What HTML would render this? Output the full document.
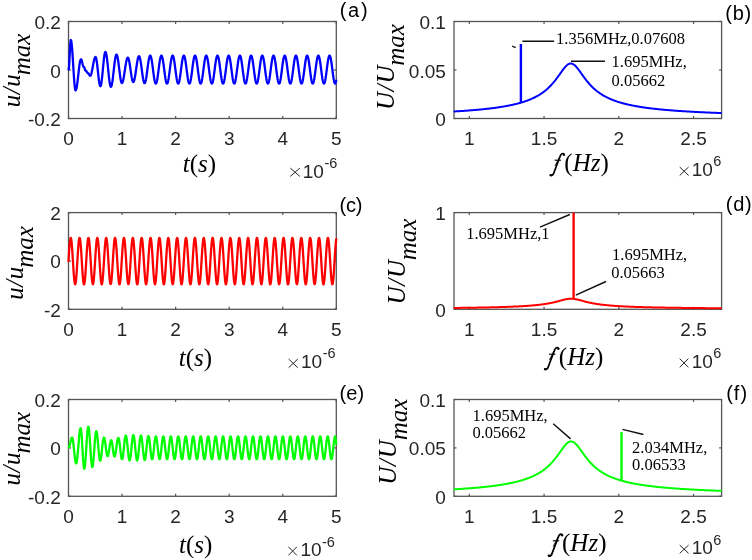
<!DOCTYPE html>
<html><head><meta charset="utf-8"><style>
html,body{margin:0;padding:0;background:#fff;width:752px;height:560px;overflow:hidden}
svg{display:block;will-change:transform}
</style></head><body>
<svg width="752" height="560" viewBox="0 0 752 560">
<rect width="752" height="560" fill="#fff"/>
<rect x="68.5" y="21.5" width="267.8" height="97" fill="none" stroke="#555" stroke-width="1.3"/>
<line x1="68.5" y1="118.5" x2="68.5" y2="116" stroke="#555" stroke-width="1.2"/>
<line x1="68.5" y1="21.5" x2="68.5" y2="24" stroke="#555" stroke-width="1.2"/>
<line x1="122.06" y1="118.5" x2="122.06" y2="116" stroke="#555" stroke-width="1.2"/>
<line x1="122.06" y1="21.5" x2="122.06" y2="24" stroke="#555" stroke-width="1.2"/>
<line x1="175.62" y1="118.5" x2="175.62" y2="116" stroke="#555" stroke-width="1.2"/>
<line x1="175.62" y1="21.5" x2="175.62" y2="24" stroke="#555" stroke-width="1.2"/>
<line x1="229.18" y1="118.5" x2="229.18" y2="116" stroke="#555" stroke-width="1.2"/>
<line x1="229.18" y1="21.5" x2="229.18" y2="24" stroke="#555" stroke-width="1.2"/>
<line x1="282.74" y1="118.5" x2="282.74" y2="116" stroke="#555" stroke-width="1.2"/>
<line x1="282.74" y1="21.5" x2="282.74" y2="24" stroke="#555" stroke-width="1.2"/>
<line x1="336.3" y1="118.5" x2="336.3" y2="116" stroke="#555" stroke-width="1.2"/>
<line x1="336.3" y1="21.5" x2="336.3" y2="24" stroke="#555" stroke-width="1.2"/>
<line x1="68.5" y1="21.5" x2="71" y2="21.5" stroke="#555" stroke-width="1.2"/>
<line x1="336.3" y1="21.5" x2="333.8" y2="21.5" stroke="#555" stroke-width="1.2"/>
<line x1="68.5" y1="70" x2="71" y2="70" stroke="#555" stroke-width="1.2"/>
<line x1="336.3" y1="70" x2="333.8" y2="70" stroke="#555" stroke-width="1.2"/>
<line x1="68.5" y1="118.5" x2="71" y2="118.5" stroke="#555" stroke-width="1.2"/>
<line x1="336.3" y1="118.5" x2="333.8" y2="118.5" stroke="#555" stroke-width="1.2"/>
<path d="M68.6,69.5 L68.88,68.38 L69.15,65.18 L69.42,60.39 L69.7,54.75 L69.97,49.11 L70.25,44.32 L70.52,41.12 L70.8,40 L71.05,40.34 L71.31,41.36 L71.56,43.03 L71.81,45.3 L72.06,48.12 L72.32,51.39 L72.57,55.05 L72.82,58.98 L73.07,63.07 L73.33,67.23 L73.58,71.32 L73.83,75.25 L74.08,78.91 L74.34,82.18 L74.59,85 L74.84,87.27 L75.09,88.94 L75.35,89.96 L75.6,90.3 L75.86,90.13 L76.11,89.61 L76.37,88.77 L76.63,87.61 L76.89,86.16 L77.14,84.46 L77.4,82.55 L77.66,80.46 L77.91,78.25 L78.17,75.96 L78.43,73.64 L78.69,71.35 L78.94,69.14 L79.2,67.05 L79.46,65.14 L79.71,63.44 L79.97,61.99 L80.23,60.83 L80.49,59.99 L80.74,59.47 L81,59.3 L81.27,59.48 L81.54,60.02 L81.81,60.85 L82.08,61.89 L82.35,63.05 L82.62,64.21 L82.89,65.25 L83.16,66.08 L83.43,66.62 L83.7,66.8 L83.96,66.95 L84.22,67.39 L84.49,68.03 L84.75,68.8 L85.01,69.57 L85.28,70.21 L85.54,70.65 L85.8,70.8 L86.08,70.89 L86.35,71.15 L86.62,71.54 L86.9,72 L87.17,72.46 L87.45,72.85 L87.72,73.11 L88,73.2 L88.28,73.3 L88.55,73.58 L88.83,74 L89.1,74.5 L89.38,75 L89.65,75.42 L89.92,75.7 L90.2,75.8 L90.45,75.7 L90.7,75.38 L90.96,74.87 L91.21,74.17 L91.46,73.29 L91.71,72.26 L91.97,71.1 L92.22,69.83 L92.47,68.49 L92.72,67.1 L92.98,65.7 L93.23,64.31 L93.48,62.97 L93.73,61.7 L93.99,60.54 L94.24,59.51 L94.49,58.63 L94.74,57.93 L95,57.42 L95.25,57.1 L95.5,57 L95.76,57.2 L96.02,57.79 L96.27,58.76 L96.53,60.08 L96.79,61.71 L97.05,63.61 L97.31,65.74 L97.56,68.02 L97.82,70.39 L98.08,72.81 L98.34,75.18 L98.59,77.46 L98.85,79.59 L99.11,81.49 L99.37,83.12 L99.63,84.44 L99.88,85.41 L100.14,86 L100.4,86.2 L100.65,85.99 L100.9,85.36 L101.15,84.34 L101.4,82.93 L101.65,81.19 L101.9,79.15 L102.15,76.86 L102.4,74.38 L102.65,71.78 L102.9,69.1 L103.15,66.42 L103.4,63.82 L103.65,61.34 L103.9,59.05 L104.15,57.01 L104.4,55.27 L104.65,53.86 L104.9,52.84 L105.15,52.21 L105.4,52 L105.65,52.18 L105.9,52.7 L106.15,53.57 L106.4,54.76 L106.65,56.25 L106.9,58.01 L107.15,59.99 L107.4,62.17 L107.65,64.5 L107.9,66.92 L108.15,69.4 L108.4,71.88 L108.65,74.3 L108.9,76.63 L109.15,78.81 L109.4,80.79 L109.65,82.55 L109.9,84.04 L110.15,85.23 L110.4,86.1 L110.65,86.62 L110.9,86.8 L111.15,86.64 L111.41,86.15 L111.66,85.35 L111.92,84.24 L112.17,82.87 L112.43,81.24 L112.68,79.4 L112.94,77.39 L113.19,75.24 L113.45,72.99 L113.7,70.7 L113.95,68.41 L114.21,66.16 L114.46,64.01 L114.72,62 L114.97,60.16 L115.23,58.53 L115.48,57.16 L115.74,56.05 L115.99,55.25 L116.25,54.76 L116.5,54.6 L116.76,54.76 L117.01,55.23 L117.27,56.01 L117.53,57.07 L117.79,58.39 L118.04,59.95 L118.3,61.7 L118.56,63.61 L118.81,65.64 L119.07,67.74 L119.33,69.86 L119.59,71.96 L119.84,73.99 L120.1,75.9 L120.36,77.65 L120.61,79.21 L120.87,80.53 L121.13,81.59 L121.39,82.37 L121.64,82.84 L121.9,83 L122.16,82.88 L122.41,82.53 L122.67,81.95 L122.93,81.15 L123.18,80.15 L123.44,78.97 L123.7,77.62 L123.95,76.14 L124.21,74.55 L124.47,72.88 L124.72,71.17 L124.98,69.43 L125.23,67.72 L125.49,66.05 L125.75,64.46 L126,62.98 L126.26,61.63 L126.52,60.45 L126.77,59.45 L127.03,58.65 L127.29,58.07 L127.54,57.72 L127.8,57.6 L128.05,57.72 L128.3,58.09 L128.55,58.7 L128.8,59.54 L129.05,60.58 L129.3,61.81 L129.55,63.2 L129.8,64.73 L130.05,66.36 L130.3,68.06 L130.55,69.8 L130.8,71.54 L131.05,73.24 L131.3,74.87 L131.55,76.4 L131.8,77.79 L132.05,79.02 L132.3,80.06 L132.55,80.9 L132.8,81.51 L133.05,81.88 L133.3,82 L133.56,81.87 L133.82,81.48 L134.08,80.83 L134.34,79.95 L134.6,78.85 L134.85,77.55 L135.11,76.07 L135.37,74.46 L135.63,72.73 L135.89,70.94 L136.15,69.1 L136.41,67.26 L136.67,65.47 L136.93,63.74 L137.19,62.13 L137.45,60.65 L137.7,59.35 L137.96,58.25 L138.22,57.37 L138.48,56.72 L138.74,56.33 L139,56.2 L139.25,56.34 L139.51,56.75 L139.76,57.42 L140.02,58.34 L140.27,59.5 L140.53,60.86 L140.78,62.4 L141.04,64.09 L141.29,65.9 L141.55,67.78 L141.8,69.7 L142.05,71.62 L142.31,73.5 L142.56,75.31 L142.82,77 L143.07,78.54 L143.33,79.9 L143.58,81.06 L143.84,81.98 L144.09,82.65 L144.35,83.06 L144.6,83.2 L144.85,83.06 L145.11,82.64 L145.36,81.95 L145.62,81.01 L145.87,79.83 L146.13,78.44 L146.38,76.86 L146.64,75.13 L146.89,73.29 L147.15,71.36 L147.4,69.4 L147.66,67.44 L147.91,65.51 L148.17,63.67 L148.42,61.94 L148.68,60.36 L148.93,58.97 L149.19,57.79 L149.44,56.85 L149.7,56.16 L149.95,55.74 L150.2,55.6 L150.46,55.74 L150.71,56.17 L150.97,56.87 L151.22,57.82 L151.48,59.02 L151.73,60.43 L151.99,62.03 L152.24,63.78 L152.5,65.66 L152.75,67.61 L153.01,69.6 L153.26,71.59 L153.52,73.54 L153.77,75.42 L154.03,77.17 L154.28,78.77 L154.54,80.18 L154.79,81.38 L155.05,82.33 L155.3,83.03 L155.56,83.46 L155.81,83.6 L156.06,83.46 L156.32,83.03 L156.57,82.33 L156.83,81.38 L157.08,80.18 L157.34,78.77 L157.59,77.17 L157.85,75.42 L158.1,73.54 L158.36,71.59 L158.61,69.6 L158.87,67.61 L159.12,65.66 L159.38,63.78 L159.63,62.03 L159.89,60.43 L160.14,59.02 L160.4,57.82 L160.65,56.87 L160.91,56.17 L161.16,55.74 L161.41,55.6 L161.67,55.74 L161.92,56.17 L162.18,56.87 L162.43,57.82 L162.69,59.02 L162.94,60.43 L163.2,62.03 L163.45,63.78 L163.71,65.66 L163.96,67.61 L164.22,69.6 L164.47,71.59 L164.73,73.54 L164.98,75.42 L165.24,77.17 L165.49,78.77 L165.75,80.18 L166,81.38 L166.26,82.33 L166.51,83.03 L166.77,83.46 L167.02,83.6 L167.27,83.46 L167.53,83.03 L167.78,82.33 L168.04,81.38 L168.29,80.18 L168.55,78.77 L168.8,77.17 L169.06,75.42 L169.31,73.54 L169.57,71.59 L169.82,69.6 L170.08,67.61 L170.33,65.66 L170.59,63.78 L170.84,62.03 L171.1,60.43 L171.35,59.02 L171.61,57.82 L171.86,56.87 L172.12,56.17 L172.37,55.74 L172.62,55.6 L172.88,55.74 L173.13,56.17 L173.39,56.87 L173.64,57.82 L173.9,59.02 L174.15,60.43 L174.41,62.03 L174.66,63.78 L174.92,65.66 L175.17,67.61 L175.43,69.6 L175.68,71.59 L175.94,73.54 L176.19,75.42 L176.45,77.17 L176.7,78.77 L176.96,80.18 L177.21,81.38 L177.47,82.33 L177.72,83.03 L177.98,83.46 L178.23,83.6 L178.48,83.46 L178.74,83.03 L178.99,82.33 L179.25,81.38 L179.5,80.18 L179.76,78.77 L180.01,77.17 L180.27,75.42 L180.52,73.54 L180.78,71.59 L181.03,69.6 L181.29,67.61 L181.54,65.66 L181.8,63.78 L182.05,62.03 L182.31,60.43 L182.56,59.02 L182.82,57.82 L183.07,56.87 L183.33,56.17 L183.58,55.74 L183.83,55.6 L184.09,55.74 L184.34,56.17 L184.6,56.87 L184.85,57.82 L185.11,59.02 L185.36,60.43 L185.62,62.03 L185.87,63.78 L186.13,65.66 L186.38,67.61 L186.64,69.6 L186.89,71.59 L187.15,73.54 L187.4,75.42 L187.66,77.17 L187.91,78.77 L188.17,80.18 L188.42,81.38 L188.68,82.33 L188.93,83.03 L189.19,83.46 L189.44,83.6 L189.69,83.46 L189.95,83.03 L190.2,82.33 L190.46,81.38 L190.71,80.18 L190.97,78.77 L191.22,77.17 L191.48,75.42 L191.73,73.54 L191.99,71.59 L192.24,69.6 L192.5,67.61 L192.75,65.66 L193.01,63.78 L193.26,62.03 L193.52,60.43 L193.77,59.02 L194.03,57.82 L194.28,56.87 L194.54,56.17 L194.79,55.74 L195.04,55.6 L195.3,55.74 L195.55,56.17 L195.81,56.87 L196.06,57.82 L196.32,59.02 L196.57,60.43 L196.83,62.03 L197.08,63.78 L197.34,65.66 L197.59,67.61 L197.85,69.6 L198.1,71.59 L198.36,73.54 L198.61,75.42 L198.87,77.17 L199.12,78.77 L199.38,80.18 L199.63,81.38 L199.89,82.33 L200.14,83.03 L200.4,83.46 L200.65,83.6 L200.9,83.46 L201.16,83.03 L201.41,82.33 L201.67,81.38 L201.92,80.18 L202.18,78.77 L202.43,77.17 L202.69,75.42 L202.94,73.54 L203.2,71.59 L203.45,69.6 L203.71,67.61 L203.96,65.66 L204.22,63.78 L204.47,62.03 L204.73,60.43 L204.98,59.02 L205.24,57.82 L205.49,56.87 L205.75,56.17 L206,55.74 L206.25,55.6 L206.51,55.74 L206.76,56.17 L207.02,56.87 L207.27,57.82 L207.53,59.02 L207.78,60.43 L208.04,62.03 L208.29,63.78 L208.55,65.66 L208.8,67.61 L209.06,69.6 L209.31,71.59 L209.57,73.54 L209.82,75.42 L210.08,77.17 L210.33,78.77 L210.59,80.18 L210.84,81.38 L211.1,82.33 L211.35,83.03 L211.61,83.46 L211.86,83.6 L212.11,83.46 L212.37,83.03 L212.62,82.33 L212.88,81.38 L213.13,80.18 L213.39,78.77 L213.64,77.17 L213.9,75.42 L214.15,73.54 L214.41,71.59 L214.66,69.6 L214.92,67.61 L215.17,65.66 L215.43,63.78 L215.68,62.03 L215.94,60.43 L216.19,59.02 L216.45,57.82 L216.7,56.87 L216.96,56.17 L217.21,55.74 L217.46,55.6 L217.72,55.74 L217.97,56.17 L218.23,56.87 L218.48,57.82 L218.74,59.02 L218.99,60.43 L219.25,62.03 L219.5,63.78 L219.76,65.66 L220.01,67.61 L220.27,69.6 L220.52,71.59 L220.78,73.54 L221.03,75.42 L221.29,77.17 L221.54,78.77 L221.8,80.18 L222.05,81.38 L222.31,82.33 L222.56,83.03 L222.82,83.46 L223.07,83.6 L223.32,83.46 L223.58,83.03 L223.83,82.33 L224.09,81.38 L224.34,80.18 L224.6,78.77 L224.85,77.17 L225.11,75.42 L225.36,73.54 L225.62,71.59 L225.87,69.6 L226.13,67.61 L226.38,65.66 L226.64,63.78 L226.89,62.03 L227.15,60.43 L227.4,59.02 L227.66,57.82 L227.91,56.87 L228.17,56.17 L228.42,55.74 L228.67,55.6 L228.93,55.74 L229.18,56.17 L229.44,56.87 L229.69,57.82 L229.95,59.02 L230.2,60.43 L230.46,62.03 L230.71,63.78 L230.97,65.66 L231.22,67.61 L231.48,69.6 L231.73,71.59 L231.99,73.54 L232.24,75.42 L232.5,77.17 L232.75,78.77 L233.01,80.18 L233.26,81.38 L233.52,82.33 L233.77,83.03 L234.03,83.46 L234.28,83.6 L234.53,83.46 L234.79,83.03 L235.04,82.33 L235.3,81.38 L235.55,80.18 L235.81,78.77 L236.06,77.17 L236.32,75.42 L236.57,73.54 L236.83,71.59 L237.08,69.6 L237.34,67.61 L237.59,65.66 L237.85,63.78 L238.1,62.03 L238.36,60.43 L238.61,59.02 L238.87,57.82 L239.12,56.87 L239.38,56.17 L239.63,55.74 L239.88,55.6 L240.14,55.74 L240.39,56.17 L240.65,56.87 L240.9,57.82 L241.16,59.02 L241.41,60.43 L241.67,62.03 L241.92,63.78 L242.18,65.66 L242.43,67.61 L242.69,69.6 L242.94,71.59 L243.2,73.54 L243.45,75.42 L243.71,77.17 L243.96,78.77 L244.22,80.18 L244.47,81.38 L244.73,82.33 L244.98,83.03 L245.24,83.46 L245.49,83.6 L245.74,83.46 L246,83.03 L246.25,82.33 L246.51,81.38 L246.76,80.18 L247.02,78.77 L247.27,77.17 L247.53,75.42 L247.78,73.54 L248.04,71.59 L248.29,69.6 L248.55,67.61 L248.8,65.66 L249.06,63.78 L249.31,62.03 L249.57,60.43 L249.82,59.02 L250.08,57.82 L250.33,56.87 L250.59,56.17 L250.84,55.74 L251.09,55.6 L251.35,55.74 L251.6,56.17 L251.86,56.87 L252.11,57.82 L252.37,59.02 L252.62,60.43 L252.88,62.03 L253.13,63.78 L253.39,65.66 L253.64,67.61 L253.9,69.6 L254.15,71.59 L254.41,73.54 L254.66,75.42 L254.92,77.17 L255.17,78.77 L255.43,80.18 L255.68,81.38 L255.94,82.33 L256.19,83.03 L256.45,83.46 L256.7,83.6 L256.95,83.46 L257.21,83.03 L257.46,82.33 L257.72,81.38 L257.97,80.18 L258.23,78.77 L258.48,77.17 L258.74,75.42 L258.99,73.54 L259.25,71.59 L259.5,69.6 L259.76,67.61 L260.01,65.66 L260.27,63.78 L260.52,62.03 L260.78,60.43 L261.03,59.02 L261.29,57.82 L261.54,56.87 L261.8,56.17 L262.05,55.74 L262.3,55.6 L262.56,55.74 L262.81,56.17 L263.07,56.87 L263.32,57.82 L263.58,59.02 L263.83,60.43 L264.09,62.03 L264.34,63.78 L264.6,65.66 L264.85,67.61 L265.11,69.6 L265.36,71.59 L265.62,73.54 L265.87,75.42 L266.13,77.17 L266.38,78.77 L266.64,80.18 L266.89,81.38 L267.15,82.33 L267.4,83.03 L267.66,83.46 L267.91,83.6 L268.16,83.46 L268.42,83.03 L268.67,82.33 L268.93,81.38 L269.18,80.18 L269.44,78.77 L269.69,77.17 L269.95,75.42 L270.2,73.54 L270.46,71.59 L270.71,69.6 L270.97,67.61 L271.22,65.66 L271.48,63.78 L271.73,62.03 L271.99,60.43 L272.24,59.02 L272.5,57.82 L272.75,56.87 L273.01,56.17 L273.26,55.74 L273.51,55.6 L273.77,55.74 L274.02,56.17 L274.28,56.87 L274.53,57.82 L274.79,59.02 L275.04,60.43 L275.3,62.03 L275.55,63.78 L275.81,65.66 L276.06,67.61 L276.32,69.6 L276.57,71.59 L276.83,73.54 L277.08,75.42 L277.34,77.17 L277.59,78.77 L277.85,80.18 L278.1,81.38 L278.36,82.33 L278.61,83.03 L278.87,83.46 L279.12,83.6 L279.37,83.46 L279.63,83.03 L279.88,82.33 L280.14,81.38 L280.39,80.18 L280.65,78.77 L280.9,77.17 L281.16,75.42 L281.41,73.54 L281.67,71.59 L281.92,69.6 L282.18,67.61 L282.43,65.66 L282.69,63.78 L282.94,62.03 L283.2,60.43 L283.45,59.02 L283.71,57.82 L283.96,56.87 L284.22,56.17 L284.47,55.74 L284.72,55.6 L284.98,55.74 L285.23,56.17 L285.49,56.87 L285.74,57.82 L286,59.02 L286.25,60.43 L286.51,62.03 L286.76,63.78 L287.02,65.66 L287.27,67.61 L287.53,69.6 L287.78,71.59 L288.04,73.54 L288.29,75.42 L288.55,77.17 L288.8,78.77 L289.06,80.18 L289.31,81.38 L289.57,82.33 L289.82,83.03 L290.08,83.46 L290.33,83.6 L290.58,83.46 L290.84,83.03 L291.09,82.33 L291.35,81.38 L291.6,80.18 L291.86,78.77 L292.11,77.17 L292.37,75.42 L292.62,73.54 L292.88,71.59 L293.13,69.6 L293.39,67.61 L293.64,65.66 L293.9,63.78 L294.15,62.03 L294.41,60.43 L294.66,59.02 L294.92,57.82 L295.17,56.87 L295.43,56.17 L295.68,55.74 L295.93,55.6 L296.19,55.74 L296.44,56.17 L296.7,56.87 L296.95,57.82 L297.21,59.02 L297.46,60.43 L297.72,62.03 L297.97,63.78 L298.23,65.66 L298.48,67.61 L298.74,69.6 L298.99,71.59 L299.25,73.54 L299.5,75.42 L299.76,77.17 L300.01,78.77 L300.27,80.18 L300.52,81.38 L300.78,82.33 L301.03,83.03 L301.29,83.46 L301.54,83.6 L301.79,83.46 L302.05,83.03 L302.3,82.33 L302.56,81.38 L302.81,80.18 L303.07,78.77 L303.32,77.17 L303.58,75.42 L303.83,73.54 L304.09,71.59 L304.34,69.6 L304.6,67.61 L304.85,65.66 L305.11,63.78 L305.36,62.03 L305.62,60.43 L305.87,59.02 L306.13,57.82 L306.38,56.87 L306.64,56.17 L306.89,55.74 L307.14,55.6 L307.4,55.74 L307.65,56.17 L307.91,56.87 L308.16,57.82 L308.42,59.02 L308.67,60.43 L308.93,62.03 L309.18,63.78 L309.44,65.66 L309.69,67.61 L309.95,69.6 L310.2,71.59 L310.46,73.54 L310.71,75.42 L310.97,77.17 L311.22,78.77 L311.48,80.18 L311.73,81.38 L311.99,82.33 L312.24,83.03 L312.5,83.46 L312.75,83.6 L313,83.46 L313.26,83.03 L313.51,82.33 L313.77,81.38 L314.02,80.18 L314.28,78.77 L314.53,77.17 L314.79,75.42 L315.04,73.54 L315.3,71.59 L315.55,69.6 L315.81,67.61 L316.06,65.66 L316.32,63.78 L316.57,62.03 L316.83,60.43 L317.08,59.02 L317.34,57.82 L317.59,56.87 L317.85,56.17 L318.1,55.74 L318.36,55.6 L318.61,55.74 L318.86,56.17 L319.12,56.87 L319.37,57.82 L319.63,59.02 L319.88,60.43 L320.14,62.03 L320.39,63.78 L320.65,65.66 L320.9,67.61 L321.16,69.6 L321.41,71.59 L321.67,73.54 L321.92,75.42 L322.18,77.17 L322.43,78.77 L322.69,80.18 L322.94,81.38 L323.2,82.33 L323.45,83.03 L323.71,83.46 L323.96,83.6 L324.21,83.46 L324.47,83.03 L324.72,82.33 L324.98,81.38 L325.23,80.18 L325.49,78.77 L325.74,77.17 L326,75.42 L326.25,73.54 L326.51,71.59 L326.76,69.6 L327.02,67.61 L327.27,65.66 L327.53,63.78 L327.78,62.03 L328.04,60.43 L328.29,59.02 L328.55,57.82 L328.8,56.87 L329.06,56.17 L329.31,55.74 L329.57,55.6 L329.82,55.74 L330.07,56.17 L330.33,56.87 L330.58,57.82 L330.84,59.02 L331.09,60.43 L331.35,62.03 L331.6,63.78 L331.86,65.66 L332.11,67.61 L332.37,69.6 L332.62,71.59 L332.88,73.54 L333.13,75.42 L333.39,77.17 L333.64,78.77 L333.9,80.18 L334.15,81.38 L334.41,82.33 L334.66,83.03 L334.92,83.46 L335.17,83.6 L336.3,80.58" fill="none" stroke="#0000ff" stroke-width="2.3" stroke-linejoin="round" stroke-linecap="round"/>
<rect x="68.5" y="212.6" width="267.8" height="96.7" fill="none" stroke="#555" stroke-width="1.3"/>
<line x1="68.5" y1="309.3" x2="68.5" y2="306.8" stroke="#555" stroke-width="1.2"/>
<line x1="68.5" y1="212.6" x2="68.5" y2="215.1" stroke="#555" stroke-width="1.2"/>
<line x1="122.06" y1="309.3" x2="122.06" y2="306.8" stroke="#555" stroke-width="1.2"/>
<line x1="122.06" y1="212.6" x2="122.06" y2="215.1" stroke="#555" stroke-width="1.2"/>
<line x1="175.62" y1="309.3" x2="175.62" y2="306.8" stroke="#555" stroke-width="1.2"/>
<line x1="175.62" y1="212.6" x2="175.62" y2="215.1" stroke="#555" stroke-width="1.2"/>
<line x1="229.18" y1="309.3" x2="229.18" y2="306.8" stroke="#555" stroke-width="1.2"/>
<line x1="229.18" y1="212.6" x2="229.18" y2="215.1" stroke="#555" stroke-width="1.2"/>
<line x1="282.74" y1="309.3" x2="282.74" y2="306.8" stroke="#555" stroke-width="1.2"/>
<line x1="282.74" y1="212.6" x2="282.74" y2="215.1" stroke="#555" stroke-width="1.2"/>
<line x1="336.3" y1="309.3" x2="336.3" y2="306.8" stroke="#555" stroke-width="1.2"/>
<line x1="336.3" y1="212.6" x2="336.3" y2="215.1" stroke="#555" stroke-width="1.2"/>
<line x1="68.5" y1="212.6" x2="71" y2="212.6" stroke="#555" stroke-width="1.2"/>
<line x1="336.3" y1="212.6" x2="333.8" y2="212.6" stroke="#555" stroke-width="1.2"/>
<line x1="68.5" y1="260.95" x2="71" y2="260.95" stroke="#555" stroke-width="1.2"/>
<line x1="336.3" y1="260.95" x2="333.8" y2="260.95" stroke="#555" stroke-width="1.2"/>
<line x1="68.5" y1="309.3" x2="71" y2="309.3" stroke="#555" stroke-width="1.2"/>
<line x1="336.3" y1="309.3" x2="333.8" y2="309.3" stroke="#555" stroke-width="1.2"/>
<path d="M68.5,261.1 L68.75,257.01 L69,253.05 L69.25,249.34 L69.5,246 L69.75,243.14 L70,240.83 L70.25,239.16 L70.5,238.17 L70.75,237.91 L71,238.36 L71.25,239.53 L71.5,241.38 L71.75,243.84 L72,246.84 L72.25,250.29 L72.5,254.07 L72.75,258.08 L73,262.18 L73.25,266.24 L73.5,270.15 L73.75,273.77 L74,277 L74.25,279.72 L74.5,281.87 L74.75,283.37 L75,284.17 L75.25,284.24 L75.5,283.6 L75.75,282.25 L76,280.24 L76.25,277.63 L76.5,274.5 L76.75,270.95 L77,267.1 L77.25,263.05 L77.5,258.95 L77.75,254.91 L78,251.07 L78.25,247.54 L78.5,244.44 L78.75,241.85 L79,239.87 L79.25,238.56 L79.5,237.94 L79.75,238.06 L80,238.89 L80.25,240.42 L80.5,242.59 L80.75,245.35 L81,248.6 L81.25,252.23 L81.5,256.15 L81.75,260.22 L82,264.32 L82.25,268.32 L82.5,272.09 L82.75,275.52 L83,278.49 L83.25,280.93 L83.5,282.74 L83.75,283.87 L84,284.3 L84.25,283.99 L84.5,282.98 L84.75,281.27 L85,278.94 L85.25,276.04 L85.5,272.68 L85.75,268.96 L86,264.99 L86.25,260.9 L86.5,256.82 L86.75,252.87 L87,249.18 L87.25,245.86 L87.5,243.01 L87.75,240.74 L88,239.1 L88.25,238.14 L88.5,237.91 L88.75,238.4 L89,239.61 L89.25,241.48 L89.5,243.97 L89.75,246.99 L90,250.46 L90.25,254.26 L90.5,258.27 L90.75,262.37 L91,266.43 L91.25,270.33 L91.5,273.93 L91.75,277.14 L92,279.84 L92.25,281.96 L92.5,283.42 L92.75,284.19 L93,284.23 L93.25,283.55 L93.5,282.17 L93.75,280.12 L94,277.49 L94.25,274.34 L94.5,270.77 L94.75,266.91 L95,262.86 L95.25,258.75 L95.5,254.72 L95.75,250.89 L96,247.38 L96.25,244.3 L96.5,241.74 L96.75,239.79 L97,238.51 L97.25,237.93 L97.5,238.08 L97.75,238.95 L98,240.51 L98.25,242.71 L98.5,245.49 L98.75,248.76 L99,252.42 L99.25,256.34 L99.5,260.42 L99.75,264.51 L100,268.5 L100.25,272.26 L100.5,275.67 L100.75,278.62 L101,281.03 L101.25,282.81 L101.5,283.91 L101.75,284.3 L102,283.96 L102.25,282.91 L102.5,281.17 L102.75,278.81 L103,275.89 L103.25,272.51 L103.5,268.78 L103.75,264.8 L104,260.71 L104.25,256.62 L104.5,252.68 L104.75,249.01 L105,245.71 L105.25,242.89 L105.5,240.64 L105.75,239.03 L106,238.12 L106.25,237.92 L106.5,238.45 L106.75,239.68 L107,241.59 L107.25,244.1 L107.5,247.15 L107.75,250.64 L108,254.45 L108.25,258.47 L108.5,262.57 L108.75,266.63 L109,270.51 L109.25,274.1 L109.5,277.28 L109.75,279.96 L110,282.04 L110.25,283.47 L110.5,284.21 L110.75,284.21 L111,283.5 L111.25,282.08 L111.5,280.01 L111.75,277.35 L112,274.17 L112.25,270.59 L112.5,266.71 L112.75,262.66 L113,258.56 L113.25,254.53 L113.5,250.72 L113.75,247.22 L114,244.17 L114.25,241.64 L114.5,239.72 L114.75,238.47 L115,237.92 L115.25,238.1 L115.5,239.01 L115.75,240.6 L116,242.83 L116.25,245.64 L116.5,248.93 L116.75,252.6 L117,256.54 L117.25,260.62 L117.5,264.71 L117.75,268.69 L118,272.43 L118.25,275.82 L118.5,278.75 L118.75,281.13 L119,282.88 L119.25,283.95 L119.5,284.3 L119.75,283.93 L120,282.84 L120.25,281.07 L120.5,278.68 L120.75,275.74 L121,272.34 L121.25,268.59 L121.5,264.6 L121.75,260.51 L122,256.43 L122.25,252.5 L122.5,248.84 L122.75,245.56 L123,242.77 L123.25,240.55 L123.5,238.97 L123.75,238.09 L124,237.93 L124.25,238.49 L124.5,239.76 L124.75,241.69 L125,244.24 L125.25,247.31 L125.5,250.81 L125.75,254.64 L126,258.66 L126.25,262.77 L126.5,266.82 L126.75,270.69 L127,274.26 L127.25,277.42 L127.5,280.07 L127.75,282.13 L128,283.53 L128.25,284.22 L128.5,284.2 L128.75,283.45 L129,282 L129.25,279.89 L129.5,277.2 L129.75,274.01 L130,270.41 L130.25,266.52 L130.5,262.46 L130.75,258.36 L131,254.35 L131.25,250.54 L131.5,247.07 L131.75,244.03 L132,241.53 L132.25,239.64 L132.5,238.42 L132.75,237.91 L133,238.13 L133.25,239.07 L133.5,240.69 L133.75,242.96 L134,245.79 L134.25,249.1 L134.5,252.78 L134.75,256.73 L135,260.81 L135.25,264.9 L135.5,268.88 L135.75,272.61 L136,275.98 L136.25,278.88 L136.5,281.23 L136.75,282.95 L137,283.98 L137.25,284.3 L137.5,283.89 L137.75,282.77 L138,280.97 L138.25,278.55 L138.5,275.59 L138.75,272.17 L139,268.4 L139.25,264.41 L139.5,260.31 L139.75,256.24 L140,252.32 L140.25,248.67 L140.5,245.41 L140.75,242.65 L141,240.46 L141.25,238.92 L141.5,238.07 L141.75,237.94 L142,238.53 L142.25,239.84 L142.5,241.8 L142.75,244.37 L143,247.47 L143.25,250.99 L143.5,254.83 L143.75,258.86 L144,262.96 L144.25,267.01 L144.5,270.87 L144.75,274.42 L145,277.56 L145.25,280.18 L145.5,282.21 L145.75,283.58 L146,284.24 L146.25,284.18 L146.5,283.39 L146.75,281.91 L147,279.78 L147.25,277.06 L147.5,273.85 L147.75,270.23 L148,266.33 L148.25,262.27 L148.5,258.17 L148.75,254.16 L149,250.37 L149.25,246.91 L149.5,243.9 L149.75,241.42 L150,239.57 L150.25,238.38 L150.5,237.91 L150.75,238.16 L151,239.13 L151.25,240.79 L151.5,243.08 L151.75,245.94 L152,249.27 L152.25,252.97 L152.5,256.92 L152.75,261.01 L153,265.1 L153.25,269.06 L153.5,272.78 L153.75,276.13 L154,279.01 L154.25,281.32 L154.5,283.01 L154.75,284.01 L155,284.3 L155.25,283.85 L155.5,282.7 L155.75,280.87 L156,278.42 L156.25,275.43 L156.5,271.99 L156.75,268.22 L157,264.21 L157.25,260.11 L157.5,256.05 L157.75,252.14 L158,248.51 L158.25,245.27 L158.5,242.53 L158.75,240.37 L159,238.86 L159.25,238.04 L159.5,237.95 L159.75,238.58 L160,239.92 L160.25,241.91 L160.5,244.51 L160.75,247.63 L161,251.17 L161.25,255.02 L161.5,259.06 L161.75,263.16 L162,267.2 L162.25,271.05 L162.5,274.58 L162.75,277.7 L163,280.3 L163.25,282.29 L163.5,283.62 L163.75,284.25 L164,284.15 L164.25,283.34 L164.5,281.82 L164.75,279.66 L165,276.92 L165.25,273.68 L165.5,270.05 L165.75,266.14 L166,262.07 L166.25,257.97 L166.5,253.97 L166.75,250.19 L167,246.75 L167.25,243.77 L167.5,241.32 L167.75,239.49 L168,238.34 L168.25,237.9 L168.5,238.19 L168.75,239.19 L169,240.88 L169.25,243.2 L169.5,246.09 L169.75,249.44 L170,253.15 L170.25,257.12 L170.5,261.21 L170.75,265.29 L171,269.25 L171.25,272.95 L171.5,276.28 L171.75,279.13 L172,281.42 L172.25,283.07 L172.5,284.04 L172.75,284.29 L173,283.81 L173.25,282.63 L173.5,280.77 L173.75,278.29 L174,275.28 L174.25,271.82 L174.5,268.03 L174.75,264.02 L175,259.92 L175.25,255.85 L175.5,251.95 L175.75,248.34 L176,245.13 L176.25,242.41 L176.5,240.28 L176.75,238.8 L177,238.02 L177.25,237.96 L177.5,238.63 L177.75,240 L178,242.03 L178.25,244.65 L178.5,247.79 L178.75,251.35 L179,255.21 L179.25,259.25 L179.5,263.36 L179.75,267.39 L180,271.23 L180.25,274.74 L180.5,277.84 L180.75,280.41 L181,282.37 L181.25,283.67 L181.5,284.26 L181.75,284.13 L182,283.28 L182.25,281.73 L182.5,279.54 L182.75,276.77 L183,273.51 L183.25,269.87 L183.5,265.95 L183.75,261.87 L184,257.78 L184.25,253.78 L184.5,250.02 L184.75,246.6 L185,243.64 L185.25,241.22 L185.5,239.42 L185.75,238.31 L186,237.9 L186.25,238.22 L186.5,239.26 L186.75,240.98 L187,243.33 L187.25,246.24 L187.5,249.61 L187.75,253.34 L188,257.31 L188.25,261.4 L188.5,265.49 L188.75,269.43 L189,273.12 L189.25,276.42 L189.5,279.25 L189.75,281.51 L190,283.14 L190.25,284.07 L190.5,284.28 L190.75,283.77 L191,282.55 L191.25,280.66 L191.5,278.16 L191.75,275.12 L192,271.64 L192.25,267.84 L192.5,263.82 L192.75,259.72 L193,255.66 L193.25,251.77 L193.5,248.18 L193.75,244.98 L194,242.3 L194.25,240.2 L194.5,238.75 L194.75,238 L195,237.98 L195.25,238.68 L195.5,240.08 L195.75,242.14 L196,244.79 L196.25,247.95 L196.5,251.53 L196.75,255.4 L197,259.45 L197.25,263.55 L197.5,267.58 L197.75,271.4 L198,274.9 L198.25,277.97 L198.5,280.51 L198.75,282.45 L199,283.71 L199.25,284.27 L199.5,284.11 L199.75,283.22 L200,281.64 L200.25,279.42 L200.5,276.63 L200.75,273.35 L201,269.68 L201.25,265.75 L201.5,261.68 L201.75,257.58 L202,253.59 L202.25,249.84 L202.5,246.45 L202.75,243.51 L203,241.12 L203.25,239.35 L203.5,238.27 L203.75,237.9 L204,238.26 L204.25,239.33 L204.5,241.08 L204.75,243.46 L205,246.39 L205.25,249.78 L205.5,253.52 L205.75,257.51 L206,261.6 L206.25,265.68 L206.5,269.62 L206.75,273.28 L207,276.57 L207.25,279.38 L207.5,281.61 L207.75,283.2 L208,284.1 L208.25,284.28 L208.5,283.73 L208.75,282.48 L209,280.55 L209.25,278.02 L209.5,274.96 L209.75,271.47 L210,267.65 L210.25,263.63 L210.5,259.52 L210.75,255.47 L211,251.59 L211.25,248.01 L211.5,244.84 L211.75,242.18 L212,240.11 L212.25,238.7 L212.5,237.99 L212.75,238 L213,238.73 L213.25,240.16 L213.5,242.25 L213.75,244.93 L214,248.11 L214.25,251.71 L214.5,255.59 L214.75,259.65 L215,263.75 L215.25,267.77 L215.5,271.58 L215.75,275.06 L216,278.11 L216.25,280.62 L216.5,282.52 L216.75,283.76 L217,284.28 L217.25,284.08 L217.5,283.16 L217.75,281.55 L218,279.3 L218.25,276.48 L218.5,273.18 L218.75,269.5 L219,265.56 L219.25,261.48 L219.5,257.39 L219.75,253.41 L220,249.67 L220.25,246.29 L220.5,243.38 L220.75,241.02 L221,239.29 L221.25,238.24 L221.5,237.9 L221.75,238.29 L222,239.4 L222.25,241.18 L222.5,243.59 L222.75,246.54 L223,249.95 L223.25,253.71 L223.5,257.7 L223.75,261.8 L224,265.87 L224.25,269.8 L224.5,273.45 L224.75,276.72 L225,279.5 L225.25,281.7 L225.5,283.26 L225.75,284.12 L226,284.27 L226.25,283.69 L226.5,282.4 L226.75,280.45 L227,277.89 L227.25,274.8 L227.5,271.29 L227.75,267.46 L228,263.43 L228.25,259.33 L228.5,255.28 L228.75,251.41 L229,247.85 L229.25,244.7 L229.5,242.07 L229.75,240.03 L230,238.65 L230.25,237.97 L230.5,238.02 L230.75,238.78 L231,240.25 L231.25,242.37 L231.5,245.07 L231.75,248.28 L232,251.89 L232.25,255.78 L232.5,259.84 L232.75,263.94 L233,267.96 L233.25,271.75 L233.5,275.22 L233.75,278.24 L234,280.73 L234.25,282.6 L234.5,283.8 L234.75,284.29 L235,284.05 L235.25,283.1 L235.5,281.46 L235.75,279.18 L236,276.33 L236.25,273.01 L236.5,269.32 L236.75,265.37 L237,261.28 L237.25,257.19 L237.5,253.22 L237.75,249.5 L238,246.14 L238.25,243.25 L238.5,240.92 L238.75,239.22 L239,238.2 L239.25,237.9 L239.5,238.33 L239.75,239.47 L240,241.28 L240.25,243.72 L240.5,246.7 L240.75,250.13 L241,253.9 L241.25,257.9 L241.5,262 L241.75,266.07 L242,269.98 L242.25,273.62 L242.5,276.86 L242.75,279.62 L243,281.79 L243.25,283.32 L243.5,284.15 L243.75,284.26 L244,283.64 L244.25,282.32 L244.5,280.34 L244.75,277.75 L245,274.64 L245.25,271.11 L245.5,267.27 L245.75,263.23 L246,259.13 L246.25,255.09 L246.5,251.23 L246.75,247.69 L247,244.56 L247.25,241.96 L247.5,239.95 L247.75,238.6 L248,237.96 L248.25,238.04 L248.5,238.84 L248.75,240.34 L249,242.49 L249.25,245.22 L249.5,248.44 L249.75,252.07 L250,255.97 L250.25,260.04 L250.5,264.14 L250.75,268.14 L251,271.93 L251.25,275.37 L251.5,278.37 L251.75,280.83 L252,282.67 L252.25,283.84 L252.5,284.29 L252.75,284.02 L253,283.04 L253.25,281.36 L253.5,279.05 L253.75,276.18 L254,272.84 L254.25,269.13 L254.5,265.17 L254.75,261.08 L255,257 L255.25,253.04 L255.5,249.33 L255.75,245.99 L256,243.13 L256.25,240.82 L256.5,239.15 L256.75,238.17 L257,237.91 L257.25,238.37 L257.5,239.54 L257.75,241.39 L258,243.85 L258.25,246.85 L258.5,250.3 L258.75,254.09 L259,258.09 L259.25,262.19 L259.5,266.26 L259.75,270.16 L260,273.78 L260.25,277.01 L260.5,279.73 L260.75,281.88 L261,283.37 L261.25,284.17 L261.5,284.24 L261.75,283.59 L262,282.24 L262.25,280.23 L262.5,277.61 L262.75,274.48 L263,270.94 L263.25,267.08 L263.5,263.04 L263.75,258.93 L264,254.9 L264.25,251.06 L264.5,247.53 L264.75,244.43 L265,241.84 L265.25,239.87 L265.5,238.55 L265.75,237.94 L266,238.06 L266.25,238.89 L266.5,240.43 L266.75,242.6 L267,245.36 L267.25,248.61 L267.5,252.25 L267.75,256.17 L268,260.24 L268.25,264.34 L268.5,268.33 L268.75,272.1 L269,275.53 L269.25,278.5 L269.5,280.94 L269.75,282.74 L270,283.88 L270.25,284.3 L270.5,283.99 L270.75,282.97 L271,281.26 L271.25,278.93 L271.5,276.03 L271.75,272.67 L272,268.95 L272.25,264.98 L272.5,260.89 L272.75,256.8 L273,252.85 L273.25,249.16 L273.5,245.84 L273.75,243 L274,240.73 L274.25,239.09 L274.5,238.14 L274.75,237.91 L275,238.41 L275.25,239.61 L275.5,241.49 L275.75,243.98 L276,247.01 L276.25,250.47 L276.5,254.27 L276.75,258.29 L277,262.39 L277.25,266.45 L277.5,270.34 L277.75,273.95 L278,277.15 L278.25,279.85 L278.5,281.96 L278.75,283.43 L279,284.19 L279.25,284.23 L279.5,283.54 L279.75,282.16 L280,280.11 L280.25,277.47 L280.5,274.32 L280.75,270.76 L281,266.89 L281.25,262.84 L281.5,258.74 L281.75,254.71 L282,250.88 L282.25,247.37 L282.5,244.29 L282.75,241.74 L283,239.79 L283.25,238.51 L283.5,237.93 L283.75,238.08 L284,238.95 L284.25,240.52 L284.5,242.72 L284.75,245.51 L285,248.78 L285.25,252.43 L285.5,256.36 L285.75,260.43 L286,264.53 L286.25,268.52 L286.5,272.28 L286.75,275.68 L287,278.63 L287.25,281.04 L287.5,282.82 L287.75,283.91 L288,284.3 L288.25,283.96 L288.5,282.9 L288.75,281.17 L289,278.8 L289.25,275.88 L289.5,272.5 L289.75,268.76 L290,264.78 L290.25,260.69 L290.5,256.61 L290.75,252.67 L291,248.99 L291.25,245.7 L291.5,242.88 L291.75,240.63 L292,239.03 L292.25,238.11 L292.5,237.92 L292.75,238.45 L293,239.69 L293.25,241.6 L293.5,244.11 L293.75,247.16 L294,250.65 L294.25,254.46 L294.5,258.48 L294.75,262.59 L295,266.64 L295.25,270.52 L295.5,274.11 L295.75,277.29 L296,279.97 L296.25,282.05 L296.5,283.48 L296.75,284.21 L297,284.21 L297.25,283.49 L297.5,282.08 L297.75,280 L298,277.33 L298.25,274.16 L298.5,270.58 L298.75,266.7 L299,262.64 L299.25,258.54 L299.5,254.52 L299.75,250.7 L300,247.21 L300.25,244.15 L300.5,241.63 L300.75,239.71 L301,238.46 L301.25,237.92 L301.5,238.11 L301.75,239.01 L302,240.61 L302.25,242.84 L302.5,245.65 L302.75,248.94 L303,252.62 L303.25,256.55 L303.5,260.63 L303.75,264.73 L304,268.71 L304.25,272.45 L304.5,275.84 L304.75,278.76 L305,281.14 L305.25,282.88 L305.5,283.95 L305.75,284.3 L306,283.92 L306.25,282.84 L306.5,281.07 L306.75,278.67 L307,275.73 L307.25,272.33 L307.5,268.57 L307.75,264.59 L308,260.49 L308.25,256.42 L308.5,252.49 L308.75,248.82 L309,245.55 L309.25,242.76 L309.5,240.54 L309.75,238.97 L310,238.09 L310.25,237.93 L310.5,238.49 L310.75,239.76 L311,241.7 L311.25,244.25 L311.5,247.32 L311.75,250.83 L312,254.65 L312.25,258.68 L312.5,262.78 L312.75,266.83 L313,270.7 L313.25,274.28 L313.5,277.43 L313.75,280.08 L314,282.13 L314.25,283.53 L314.5,284.22 L314.75,284.19 L315,283.44 L315.25,281.99 L315.5,279.89 L315.75,277.19 L316,274 L316.25,270.4 L316.5,266.51 L316.75,262.45 L317,258.35 L317.25,254.33 L317.5,250.53 L317.75,247.05 L318,244.02 L318.25,241.52 L318.5,239.63 L318.75,238.42 L319,237.91 L319.25,238.13 L319.5,239.07 L319.75,240.7 L320,242.97 L320.25,245.8 L320.5,249.11 L320.75,252.8 L321,256.75 L321.25,260.83 L321.5,264.92 L321.75,268.89 L322,272.62 L322.25,275.99 L322.5,278.89 L322.75,281.24 L323,282.95 L323.25,283.98 L323.5,284.3 L323.75,283.89 L324,282.77 L324.25,280.96 L324.5,278.54 L324.75,275.57 L325,272.15 L325.25,268.39 L325.5,264.39 L325.75,260.29 L326,256.22 L326.25,252.3 L326.5,248.66 L326.75,245.4 L327,242.64 L327.25,240.45 L327.5,238.91 L327.75,238.06 L328,237.94 L328.25,238.54 L328.5,239.84 L328.75,241.81 L329,244.39 L329.25,247.48 L329.5,251 L329.75,254.84 L330,258.88 L330.25,262.98 L330.5,267.02 L330.75,270.88 L331,274.44 L331.25,277.57 L331.5,280.19 L331.75,282.22 L332,283.58 L332.25,284.24 L332.5,284.17 L332.75,283.39 L333,281.9 L333.25,279.77 L333.5,277.05 L333.75,273.83 L334,270.22 L334.25,266.31 L334.5,262.25 L334.75,258.15 L335,254.14 L335.25,250.35 L335.5,246.9 L335.75,243.89 L336,241.42 L336.25,239.56 L336.3,239.27" fill="none" stroke="#ff0000" stroke-width="2.3" stroke-linejoin="round" stroke-linecap="round"/>
<rect x="68.5" y="399.5" width="267.8" height="96.8" fill="none" stroke="#555" stroke-width="1.3"/>
<line x1="68.5" y1="496.3" x2="68.5" y2="493.8" stroke="#555" stroke-width="1.2"/>
<line x1="68.5" y1="399.5" x2="68.5" y2="402" stroke="#555" stroke-width="1.2"/>
<line x1="122.06" y1="496.3" x2="122.06" y2="493.8" stroke="#555" stroke-width="1.2"/>
<line x1="122.06" y1="399.5" x2="122.06" y2="402" stroke="#555" stroke-width="1.2"/>
<line x1="175.62" y1="496.3" x2="175.62" y2="493.8" stroke="#555" stroke-width="1.2"/>
<line x1="175.62" y1="399.5" x2="175.62" y2="402" stroke="#555" stroke-width="1.2"/>
<line x1="229.18" y1="496.3" x2="229.18" y2="493.8" stroke="#555" stroke-width="1.2"/>
<line x1="229.18" y1="399.5" x2="229.18" y2="402" stroke="#555" stroke-width="1.2"/>
<line x1="282.74" y1="496.3" x2="282.74" y2="493.8" stroke="#555" stroke-width="1.2"/>
<line x1="282.74" y1="399.5" x2="282.74" y2="402" stroke="#555" stroke-width="1.2"/>
<line x1="336.3" y1="496.3" x2="336.3" y2="493.8" stroke="#555" stroke-width="1.2"/>
<line x1="336.3" y1="399.5" x2="336.3" y2="402" stroke="#555" stroke-width="1.2"/>
<line x1="68.5" y1="399.5" x2="71" y2="399.5" stroke="#555" stroke-width="1.2"/>
<line x1="336.3" y1="399.5" x2="333.8" y2="399.5" stroke="#555" stroke-width="1.2"/>
<line x1="68.5" y1="447.9" x2="71" y2="447.9" stroke="#555" stroke-width="1.2"/>
<line x1="336.3" y1="447.9" x2="333.8" y2="447.9" stroke="#555" stroke-width="1.2"/>
<line x1="68.5" y1="496.3" x2="71" y2="496.3" stroke="#555" stroke-width="1.2"/>
<line x1="336.3" y1="496.3" x2="333.8" y2="496.3" stroke="#555" stroke-width="1.2"/>
<path d="M68.7,447.5 L68.95,447.35 L69.21,446.93 L69.46,446.24 L69.72,445.34 L69.97,444.27 L70.22,443.1 L70.48,441.9 L70.73,440.73 L70.98,439.66 L71.24,438.76 L71.49,438.07 L71.75,437.65 L72,437.5 L72.26,437.75 L72.53,438.49 L72.79,439.68 L73.05,441.29 L73.31,443.26 L73.58,445.49 L73.84,447.92 L74.1,450.45 L74.36,452.98 L74.62,455.41 L74.89,457.64 L75.15,459.61 L75.41,461.22 L75.67,462.41 L75.94,463.15 L76.2,463.4 L76.46,463.1 L76.72,462.21 L76.98,460.76 L77.24,458.81 L77.49,456.41 L77.75,453.64 L78.01,450.62 L78.27,447.42 L78.53,444.18 L78.79,440.98 L79.05,437.96 L79.31,435.19 L79.56,432.79 L79.82,430.84 L80.08,429.39 L80.34,428.5 L80.6,428.2 L80.86,428.71 L81.13,430.21 L81.39,432.62 L81.66,435.82 L81.92,439.66 L82.19,443.94 L82.45,448.45 L82.71,452.96 L82.98,457.24 L83.24,461.08 L83.51,464.28 L83.77,466.69 L84.04,468.19 L84.3,468.7 L84.55,468.3 L84.8,467.11 L85.05,465.17 L85.3,462.56 L85.55,459.39 L85.8,455.77 L86.05,451.84 L86.3,447.75 L86.55,443.66 L86.8,439.73 L87.05,436.11 L87.3,432.94 L87.55,430.33 L87.8,428.39 L88.05,427.2 L88.3,426.8 L88.55,427.19 L88.8,428.33 L89.05,430.2 L89.3,432.7 L89.55,435.76 L89.8,439.24 L90.05,443.02 L90.3,446.95 L90.55,450.88 L90.8,454.66 L91.05,458.14 L91.3,461.2 L91.55,463.7 L91.8,465.57 L92.05,466.71 L92.3,467.1 L92.55,466.76 L92.8,465.73 L93.05,464.07 L93.3,461.84 L93.55,459.12 L93.8,456.02 L94.05,452.65 L94.3,449.15 L94.55,445.65 L94.8,442.28 L95.05,439.18 L95.3,436.46 L95.55,434.23 L95.8,432.57 L96.05,431.54 L96.3,431.2 L96.56,431.52 L96.82,432.48 L97.08,434.02 L97.34,436.08 L97.6,438.57 L97.86,441.39 L98.12,444.41 L98.38,447.49 L98.64,450.51 L98.9,453.32 L99.16,455.82 L99.42,457.88 L99.68,459.42 L99.94,460.38 L100.2,460.7 L100.46,460.41 L100.73,459.55 L100.99,458.17 L101.26,456.33 L101.52,454.13 L101.79,451.68 L102.05,449.1 L102.31,446.52 L102.58,444.07 L102.84,441.87 L103.11,440.03 L103.37,438.65 L103.64,437.79 L103.9,437.5 L104.16,437.73 L104.43,438.43 L104.69,439.54 L104.96,441.02 L105.22,442.79 L105.49,444.77 L105.75,446.85 L106.01,448.93 L106.28,450.91 L106.54,452.68 L106.81,454.16 L107.07,455.27 L107.34,455.97 L107.6,456.2 L107.86,456 L108.11,455.41 L108.37,454.45 L108.63,453.19 L108.89,451.67 L109.14,449.98 L109.4,448.2 L109.66,446.42 L109.91,444.73 L110.17,443.21 L110.43,441.95 L110.69,440.99 L110.94,440.4 L111.2,440.2 L111.45,440.44 L111.71,441.13 L111.96,442.25 L112.22,443.72 L112.47,445.46 L112.72,447.37 L112.98,449.33 L113.23,451.24 L113.48,452.98 L113.74,454.45 L113.99,455.57 L114.25,456.26 L114.5,456.5 L114.75,456.3 L115.01,455.7 L115.26,454.72 L115.51,453.42 L115.77,451.85 L116.02,450.07 L116.27,448.17 L116.53,446.23 L116.78,444.33 L117.03,442.55 L117.29,440.98 L117.54,439.68 L117.79,438.7 L118.05,438.1 L118.3,437.9 L118.55,438.13 L118.81,438.82 L119.06,439.93 L119.31,441.42 L119.57,443.22 L119.82,445.26 L120.07,447.44 L120.33,449.66 L120.58,451.84 L120.83,453.88 L121.09,455.68 L121.34,457.17 L121.59,458.28 L121.85,458.97 L122.1,459.2 L122.36,458.9 L122.63,458.03 L122.89,456.61 L123.16,454.74 L123.42,452.49 L123.69,449.99 L123.95,447.35 L124.21,444.71 L124.48,442.21 L124.74,439.96 L125.01,438.09 L125.27,436.67 L125.54,435.8 L125.8,435.5 L126.05,435.77 L126.31,436.58 L126.56,437.89 L126.81,439.64 L127.07,441.75 L127.32,444.14 L127.57,446.69 L127.83,449.31 L128.08,451.86 L128.33,454.25 L128.59,456.36 L128.84,458.11 L129.09,459.42 L129.35,460.23 L129.6,460.5 L129.85,460.22 L130.11,459.4 L130.36,458.06 L130.61,456.28 L130.87,454.12 L131.12,451.69 L131.37,449.08 L131.63,446.42 L131.88,443.81 L132.13,441.38 L132.39,439.22 L132.64,437.44 L132.89,436.1 L133.15,435.28 L133.4,435 L133.66,435.32 L133.93,436.26 L134.19,437.78 L134.46,439.8 L134.72,442.22 L134.99,444.91 L135.25,447.75 L135.51,450.59 L135.78,453.28 L136.04,455.7 L136.31,457.72 L136.57,459.24 L136.84,460.18 L137.1,460.5 L137.35,460.23 L137.61,459.42 L137.86,458.11 L138.11,456.36 L138.37,454.25 L138.62,451.86 L138.87,449.31 L139.13,446.69 L139.38,444.14 L139.63,441.75 L139.89,439.64 L140.14,437.89 L140.39,436.58 L140.65,435.77 L140.9,435.5 L141.15,435.77 L141.41,436.56 L141.66,437.84 L141.91,439.55 L142.17,441.62 L142.42,443.96 L142.67,446.47 L142.93,449.03 L143.18,451.54 L143.43,453.88 L143.69,455.95 L143.94,457.66 L144.19,458.94 L144.45,459.73 L144.7,460 L144.96,459.7 L145.23,458.81 L145.49,457.38 L145.76,455.48 L146.02,453.21 L146.29,450.67 L146.55,448 L146.81,445.33 L147.08,442.79 L147.34,440.52 L147.61,438.62 L147.87,437.19 L148.14,436.3 L148.4,436 L148.67,436.29 L148.93,437.15 L149.2,438.53 L149.47,440.37 L149.73,442.57 L150,445.02 L150.27,447.6 L150.53,450.18 L150.8,452.63 L151.07,454.83 L151.33,456.67 L151.6,458.05 L151.87,458.91 L152.14,459.2 L152.4,458.91 L152.67,458.07 L152.94,456.71 L153.2,454.91 L153.47,452.75 L153.74,450.34 L154,447.8 L154.27,445.26 L154.54,442.85 L154.8,440.69 L155.07,438.89 L155.34,437.53 L155.6,436.69 L155.87,436.4 L156.14,436.69 L156.4,437.53 L156.67,438.89 L156.94,440.69 L157.2,442.85 L157.47,445.26 L157.74,447.8 L158,450.34 L158.27,452.75 L158.54,454.91 L158.8,456.71 L159.07,458.07 L159.34,458.91 L159.61,459.2 L159.87,458.91 L160.14,458.07 L160.41,456.71 L160.67,454.91 L160.94,452.75 L161.21,450.34 L161.47,447.8 L161.74,445.26 L162.01,442.85 L162.27,440.69 L162.54,438.89 L162.81,437.53 L163.07,436.69 L163.34,436.4 L163.61,436.69 L163.87,437.53 L164.14,438.89 L164.41,440.69 L164.67,442.85 L164.94,445.26 L165.21,447.8 L165.47,450.34 L165.74,452.75 L166.01,454.91 L166.27,456.71 L166.54,458.07 L166.81,458.91 L167.08,459.2 L167.34,458.91 L167.61,458.07 L167.88,456.71 L168.14,454.91 L168.41,452.75 L168.68,450.34 L168.94,447.8 L169.21,445.26 L169.48,442.85 L169.74,440.69 L170.01,438.89 L170.28,437.53 L170.54,436.69 L170.81,436.4 L171.08,436.69 L171.34,437.53 L171.61,438.89 L171.88,440.69 L172.14,442.85 L172.41,445.26 L172.68,447.8 L172.94,450.34 L173.21,452.75 L173.48,454.91 L173.74,456.71 L174.01,458.07 L174.28,458.91 L174.55,459.2 L174.81,458.91 L175.08,458.07 L175.35,456.71 L175.61,454.91 L175.88,452.75 L176.15,450.34 L176.41,447.8 L176.68,445.26 L176.95,442.85 L177.21,440.69 L177.48,438.89 L177.75,437.53 L178.01,436.69 L178.28,436.4 L178.55,436.69 L178.81,437.53 L179.08,438.89 L179.35,440.69 L179.61,442.85 L179.88,445.26 L180.15,447.8 L180.41,450.34 L180.68,452.75 L180.95,454.91 L181.21,456.71 L181.48,458.07 L181.75,458.91 L182.02,459.2 L182.28,458.91 L182.55,458.07 L182.82,456.71 L183.08,454.91 L183.35,452.75 L183.62,450.34 L183.88,447.8 L184.15,445.26 L184.42,442.85 L184.68,440.69 L184.95,438.89 L185.22,437.53 L185.48,436.69 L185.75,436.4 L186.02,436.69 L186.28,437.53 L186.55,438.89 L186.82,440.69 L187.08,442.85 L187.35,445.26 L187.62,447.8 L187.88,450.34 L188.15,452.75 L188.42,454.91 L188.68,456.71 L188.95,458.07 L189.22,458.91 L189.49,459.2 L189.75,458.91 L190.02,458.07 L190.29,456.71 L190.55,454.91 L190.82,452.75 L191.09,450.34 L191.35,447.8 L191.62,445.26 L191.89,442.85 L192.15,440.69 L192.42,438.89 L192.69,437.53 L192.95,436.69 L193.22,436.4 L193.49,436.69 L193.75,437.53 L194.02,438.89 L194.29,440.69 L194.55,442.85 L194.82,445.26 L195.09,447.8 L195.35,450.34 L195.62,452.75 L195.89,454.91 L196.15,456.71 L196.42,458.07 L196.69,458.91 L196.96,459.2 L197.22,458.91 L197.49,458.07 L197.76,456.71 L198.02,454.91 L198.29,452.75 L198.56,450.34 L198.82,447.8 L199.09,445.26 L199.36,442.85 L199.62,440.69 L199.89,438.89 L200.16,437.53 L200.42,436.69 L200.69,436.4 L200.96,436.69 L201.22,437.53 L201.49,438.89 L201.76,440.69 L202.02,442.85 L202.29,445.26 L202.56,447.8 L202.82,450.34 L203.09,452.75 L203.36,454.91 L203.62,456.71 L203.89,458.07 L204.16,458.91 L204.43,459.2 L204.69,458.91 L204.96,458.07 L205.23,456.71 L205.49,454.91 L205.76,452.75 L206.03,450.34 L206.29,447.8 L206.56,445.26 L206.83,442.85 L207.09,440.69 L207.36,438.89 L207.63,437.53 L207.89,436.69 L208.16,436.4 L208.43,436.69 L208.69,437.53 L208.96,438.89 L209.23,440.69 L209.49,442.85 L209.76,445.26 L210.03,447.8 L210.29,450.34 L210.56,452.75 L210.83,454.91 L211.09,456.71 L211.36,458.07 L211.63,458.91 L211.9,459.2 L212.16,458.91 L212.43,458.07 L212.7,456.71 L212.96,454.91 L213.23,452.75 L213.5,450.34 L213.76,447.8 L214.03,445.26 L214.3,442.85 L214.56,440.69 L214.83,438.89 L215.1,437.53 L215.36,436.69 L215.63,436.4 L215.9,436.69 L216.16,437.53 L216.43,438.89 L216.7,440.69 L216.96,442.85 L217.23,445.26 L217.5,447.8 L217.76,450.34 L218.03,452.75 L218.3,454.91 L218.56,456.71 L218.83,458.07 L219.1,458.91 L219.37,459.2 L219.63,458.91 L219.9,458.07 L220.17,456.71 L220.43,454.91 L220.7,452.75 L220.97,450.34 L221.23,447.8 L221.5,445.26 L221.77,442.85 L222.03,440.69 L222.3,438.89 L222.57,437.53 L222.83,436.69 L223.1,436.4 L223.37,436.69 L223.63,437.53 L223.9,438.89 L224.17,440.69 L224.43,442.85 L224.7,445.26 L224.97,447.8 L225.23,450.34 L225.5,452.75 L225.77,454.91 L226.03,456.71 L226.3,458.07 L226.57,458.91 L226.84,459.2 L227.1,458.91 L227.37,458.07 L227.64,456.71 L227.9,454.91 L228.17,452.75 L228.44,450.34 L228.7,447.8 L228.97,445.26 L229.24,442.85 L229.5,440.69 L229.77,438.89 L230.04,437.53 L230.3,436.69 L230.57,436.4 L230.84,436.69 L231.1,437.53 L231.37,438.89 L231.64,440.69 L231.9,442.85 L232.17,445.26 L232.44,447.8 L232.7,450.34 L232.97,452.75 L233.24,454.91 L233.5,456.71 L233.77,458.07 L234.04,458.91 L234.31,459.2 L234.57,458.91 L234.84,458.07 L235.11,456.71 L235.37,454.91 L235.64,452.75 L235.91,450.34 L236.17,447.8 L236.44,445.26 L236.71,442.85 L236.97,440.69 L237.24,438.89 L237.51,437.53 L237.77,436.69 L238.04,436.4 L238.31,436.69 L238.57,437.53 L238.84,438.89 L239.11,440.69 L239.37,442.85 L239.64,445.26 L239.91,447.8 L240.17,450.34 L240.44,452.75 L240.71,454.91 L240.97,456.71 L241.24,458.07 L241.51,458.91 L241.78,459.2 L242.04,458.91 L242.31,458.07 L242.58,456.71 L242.84,454.91 L243.11,452.75 L243.38,450.34 L243.64,447.8 L243.91,445.26 L244.18,442.85 L244.44,440.69 L244.71,438.89 L244.98,437.53 L245.24,436.69 L245.51,436.4 L245.78,436.69 L246.04,437.53 L246.31,438.89 L246.58,440.69 L246.84,442.85 L247.11,445.26 L247.38,447.8 L247.64,450.34 L247.91,452.75 L248.18,454.91 L248.44,456.71 L248.71,458.07 L248.98,458.91 L249.25,459.2 L249.51,458.91 L249.78,458.07 L250.05,456.71 L250.31,454.91 L250.58,452.75 L250.85,450.34 L251.11,447.8 L251.38,445.26 L251.65,442.85 L251.91,440.69 L252.18,438.89 L252.45,437.53 L252.71,436.69 L252.98,436.4 L253.25,436.69 L253.51,437.53 L253.78,438.89 L254.05,440.69 L254.31,442.85 L254.58,445.26 L254.85,447.8 L255.11,450.34 L255.38,452.75 L255.65,454.91 L255.91,456.71 L256.18,458.07 L256.45,458.91 L256.72,459.2 L256.98,458.91 L257.25,458.07 L257.52,456.71 L257.78,454.91 L258.05,452.75 L258.32,450.34 L258.58,447.8 L258.85,445.26 L259.12,442.85 L259.38,440.69 L259.65,438.89 L259.92,437.53 L260.18,436.69 L260.45,436.4 L260.72,436.69 L260.98,437.53 L261.25,438.89 L261.52,440.69 L261.78,442.85 L262.05,445.26 L262.32,447.8 L262.58,450.34 L262.85,452.75 L263.12,454.91 L263.38,456.71 L263.65,458.07 L263.92,458.91 L264.19,459.2 L264.45,458.91 L264.72,458.07 L264.99,456.71 L265.25,454.91 L265.52,452.75 L265.79,450.34 L266.05,447.8 L266.32,445.26 L266.59,442.85 L266.85,440.69 L267.12,438.89 L267.39,437.53 L267.65,436.69 L267.92,436.4 L268.19,436.69 L268.45,437.53 L268.72,438.89 L268.99,440.69 L269.25,442.85 L269.52,445.26 L269.79,447.8 L270.05,450.34 L270.32,452.75 L270.59,454.91 L270.85,456.71 L271.12,458.07 L271.39,458.91 L271.66,459.2 L271.92,458.91 L272.19,458.07 L272.46,456.71 L272.72,454.91 L272.99,452.75 L273.26,450.34 L273.52,447.8 L273.79,445.26 L274.06,442.85 L274.32,440.69 L274.59,438.89 L274.86,437.53 L275.12,436.69 L275.39,436.4 L275.66,436.69 L275.92,437.53 L276.19,438.89 L276.46,440.69 L276.72,442.85 L276.99,445.26 L277.26,447.8 L277.52,450.34 L277.79,452.75 L278.06,454.91 L278.32,456.71 L278.59,458.07 L278.86,458.91 L279.13,459.2 L279.39,458.91 L279.66,458.07 L279.93,456.71 L280.19,454.91 L280.46,452.75 L280.73,450.34 L280.99,447.8 L281.26,445.26 L281.53,442.85 L281.79,440.69 L282.06,438.89 L282.33,437.53 L282.59,436.69 L282.86,436.4 L283.13,436.69 L283.39,437.53 L283.66,438.89 L283.93,440.69 L284.19,442.85 L284.46,445.26 L284.73,447.8 L284.99,450.34 L285.26,452.75 L285.53,454.91 L285.79,456.71 L286.06,458.07 L286.33,458.91 L286.6,459.2 L286.86,458.91 L287.13,458.07 L287.4,456.71 L287.66,454.91 L287.93,452.75 L288.2,450.34 L288.46,447.8 L288.73,445.26 L289,442.85 L289.26,440.69 L289.53,438.89 L289.8,437.53 L290.06,436.69 L290.33,436.4 L290.6,436.69 L290.86,437.53 L291.13,438.89 L291.4,440.69 L291.66,442.85 L291.93,445.26 L292.2,447.8 L292.46,450.34 L292.73,452.75 L293,454.91 L293.26,456.71 L293.53,458.07 L293.8,458.91 L294.07,459.2 L294.33,458.91 L294.6,458.07 L294.87,456.71 L295.13,454.91 L295.4,452.75 L295.67,450.34 L295.93,447.8 L296.2,445.26 L296.47,442.85 L296.73,440.69 L297,438.89 L297.27,437.53 L297.53,436.69 L297.8,436.4 L298.07,436.69 L298.33,437.53 L298.6,438.89 L298.87,440.69 L299.13,442.85 L299.4,445.26 L299.67,447.8 L299.93,450.34 L300.2,452.75 L300.47,454.91 L300.73,456.71 L301,458.07 L301.27,458.91 L301.54,459.2 L301.8,458.91 L302.07,458.07 L302.34,456.71 L302.6,454.91 L302.87,452.75 L303.14,450.34 L303.4,447.8 L303.67,445.26 L303.94,442.85 L304.2,440.69 L304.47,438.89 L304.74,437.53 L305,436.69 L305.27,436.4 L305.54,436.69 L305.8,437.53 L306.07,438.89 L306.34,440.69 L306.6,442.85 L306.87,445.26 L307.14,447.8 L307.4,450.34 L307.67,452.75 L307.94,454.91 L308.2,456.71 L308.47,458.07 L308.74,458.91 L309.01,459.2 L309.27,458.91 L309.54,458.07 L309.81,456.71 L310.07,454.91 L310.34,452.75 L310.61,450.34 L310.87,447.8 L311.14,445.26 L311.41,442.85 L311.67,440.69 L311.94,438.89 L312.21,437.53 L312.47,436.69 L312.74,436.4 L313.01,436.69 L313.27,437.53 L313.54,438.89 L313.81,440.69 L314.07,442.85 L314.34,445.26 L314.61,447.8 L314.87,450.34 L315.14,452.75 L315.41,454.91 L315.67,456.71 L315.94,458.07 L316.21,458.91 L316.48,459.2 L316.74,458.91 L317.01,458.07 L317.28,456.71 L317.54,454.91 L317.81,452.75 L318.08,450.34 L318.34,447.8 L318.61,445.26 L318.88,442.85 L319.14,440.69 L319.41,438.89 L319.68,437.53 L319.94,436.69 L320.21,436.4 L320.48,436.69 L320.74,437.53 L321.01,438.89 L321.28,440.69 L321.54,442.85 L321.81,445.26 L322.08,447.8 L322.34,450.34 L322.61,452.75 L322.88,454.91 L323.14,456.71 L323.41,458.07 L323.68,458.91 L323.95,459.2 L324.21,458.91 L324.48,458.07 L324.75,456.71 L325.01,454.91 L325.28,452.75 L325.55,450.34 L325.81,447.8 L326.08,445.26 L326.35,442.85 L326.61,440.69 L326.88,438.89 L327.15,437.53 L327.41,436.69 L327.68,436.4 L327.95,436.69 L328.21,437.53 L328.48,438.89 L328.75,440.69 L329.01,442.85 L329.28,445.26 L329.55,447.8 L329.81,450.34 L330.08,452.75 L330.35,454.91 L330.61,456.71 L330.88,458.07 L331.15,458.91 L331.42,459.2 L331.68,458.91 L331.95,458.07 L332.22,456.71 L332.48,454.91 L332.75,452.75 L333.02,450.34 L333.28,447.8 L333.55,445.26 L333.82,442.85 L334.08,440.69 L334.35,438.89 L334.62,437.53 L334.88,436.69 L335.15,436.4 L336.3,443.7" fill="none" stroke="#00ff00" stroke-width="2.3" stroke-linejoin="round" stroke-linecap="round"/>
<rect x="454" y="21.5" width="267.6" height="97" fill="none" stroke="#555" stroke-width="1.3"/>
<line x1="469.3" y1="118.5" x2="469.3" y2="116" stroke="#555" stroke-width="1.2"/>
<line x1="469.3" y1="21.5" x2="469.3" y2="24" stroke="#555" stroke-width="1.2"/>
<line x1="544.05" y1="118.5" x2="544.05" y2="116" stroke="#555" stroke-width="1.2"/>
<line x1="544.05" y1="21.5" x2="544.05" y2="24" stroke="#555" stroke-width="1.2"/>
<line x1="618.8" y1="118.5" x2="618.8" y2="116" stroke="#555" stroke-width="1.2"/>
<line x1="618.8" y1="21.5" x2="618.8" y2="24" stroke="#555" stroke-width="1.2"/>
<line x1="693.55" y1="118.5" x2="693.55" y2="116" stroke="#555" stroke-width="1.2"/>
<line x1="693.55" y1="21.5" x2="693.55" y2="24" stroke="#555" stroke-width="1.2"/>
<line x1="454" y1="21.5" x2="456.5" y2="21.5" stroke="#555" stroke-width="1.2"/>
<line x1="721.6" y1="21.5" x2="719.1" y2="21.5" stroke="#555" stroke-width="1.2"/>
<line x1="454" y1="70" x2="456.5" y2="70" stroke="#555" stroke-width="1.2"/>
<line x1="721.6" y1="70" x2="719.1" y2="70" stroke="#555" stroke-width="1.2"/>
<line x1="454" y1="118.5" x2="456.5" y2="118.5" stroke="#555" stroke-width="1.2"/>
<line x1="721.6" y1="118.5" x2="719.1" y2="118.5" stroke="#555" stroke-width="1.2"/>
<path d="M454.5,111.46 L455,111.43 L455.5,111.4 L456,111.37 L456.5,111.34 L457,111.31 L457.5,111.28 L458,111.25 L458.5,111.22 L459,111.19 L459.5,111.15 L460,111.12 L460.5,111.09 L461,111.06 L461.5,111.02 L462,110.99 L462.5,110.95 L463,110.92 L463.5,110.89 L464,110.85 L464.5,110.82 L465,110.78 L465.5,110.74 L466,110.71 L466.5,110.67 L467,110.63 L467.5,110.6 L468,110.56 L468.5,110.52 L469,110.48 L469.5,110.44 L470,110.4 L470.5,110.37 L471,110.33 L471.5,110.29 L472,110.24 L472.5,110.2 L473,110.16 L473.5,110.12 L474,110.08 L474.5,110.04 L475,109.99 L475.5,109.95 L476,109.9 L476.5,109.86 L477,109.82 L477.5,109.77 L478,109.72 L478.5,109.68 L479,109.63 L479.5,109.58 L480,109.54 L480.5,109.49 L481,109.44 L481.5,109.39 L482,109.34 L482.5,109.29 L483,109.24 L483.5,109.19 L484,109.13 L484.5,109.08 L485,109.03 L485.5,108.97 L486,108.92 L486.5,108.86 L487,108.81 L487.5,108.75 L488,108.7 L488.5,108.64 L489,108.58 L489.5,108.52 L490,108.46 L490.5,108.4 L491,108.34 L491.5,108.28 L492,108.22 L492.5,108.15 L493,108.09 L493.5,108.02 L494,107.96 L494.5,107.89 L495,107.82 L495.5,107.75 L496,107.69 L496.5,107.62 L497,107.55 L497.5,107.47 L498,107.4 L498.5,107.33 L499,107.25 L499.5,107.18 L500,107.1 L500.5,107.02 L501,106.94 L501.5,106.86 L502,106.78 L502.5,106.7 L503,106.62 L503.5,106.54 L504,106.45 L504.5,106.36 L505,106.28 L505.5,106.19 L506,106.1 L506.5,106.01 L507,105.91 L507.5,105.82 L508,105.72 L508.5,105.63 L509,105.53 L509.5,105.43 L510,105.33 L510.5,105.22 L511,105.12 L511.5,105.01 L512,104.9 L512.5,104.8 L513,104.68 L513.5,104.57 L514,104.46 L514.5,104.34 L515,104.22 L515.5,104.1 L516,103.98 L516.5,103.86 L517,103.73 L517.5,103.6 L518,103.47 L518.5,103.34 L519,103.2 L519.5,103.06 L520,102.92 L520.5,102.78 L521,102.64 L521.5,102.49 L522,102.34 L522.5,102.19 L523,102.03 L523.5,101.87 L524,101.71 L524.5,101.55 L525,101.38 L525.5,101.21 L526,101.04 L526.5,100.86 L527,100.68 L527.5,100.5 L528,100.31 L528.5,100.12 L529,99.92 L529.5,99.72 L530,99.52 L530.5,99.31 L531,99.1 L531.5,98.89 L532,98.67 L532.5,98.44 L533,98.21 L533.5,97.98 L534,97.74 L534.5,97.5 L535,97.25 L535.5,96.99 L536,96.73 L536.5,96.46 L537,96.19 L537.5,95.91 L538,95.63 L538.5,95.33 L539,95.04 L539.5,94.73 L540,94.42 L540.5,94.1 L541,93.77 L541.5,93.44 L542,93.09 L542.5,92.74 L543,92.38 L543.5,92.01 L544,91.64 L544.5,91.25 L545,90.86 L545.5,90.45 L546,90.04 L546.5,89.61 L547,89.17 L547.5,88.73 L548,88.27 L548.5,87.8 L549,87.32 L549.5,86.83 L550,86.33 L550.5,85.81 L551,85.29 L551.5,84.75 L552,84.2 L552.5,83.63 L553,83.06 L553.5,82.47 L554,81.87 L554.5,81.26 L555,80.63 L555.5,80 L556,79.35 L556.5,78.69 L557,78.02 L557.5,77.35 L558,76.66 L558.5,75.97 L559,75.27 L559.5,74.57 L560,73.87 L560.5,73.16 L561,72.46 L561.5,71.76 L562,71.06 L562.5,70.38 L563,69.7 L563.5,69.05 L564,68.41 L564.5,67.79 L565,67.2 L565.5,66.64 L566,66.12 L566.5,65.63 L567,65.18 L567.5,64.78 L568,64.43 L568.5,64.14 L569,63.89 L569.5,63.71 L570,63.58 L570.5,63.51 L571,63.5 L571.5,63.56 L572,63.68 L572.5,63.85 L573,64.08 L573.5,64.37 L574,64.71 L574.5,65.1 L575,65.54 L575.5,66.02 L576,66.53 L576.5,67.09 L577,67.67 L577.5,68.28 L578,68.92 L578.5,69.57 L579,70.24 L579.5,70.92 L580,71.62 L580.5,72.32 L581,73.02 L581.5,73.72 L582,74.43 L582.5,75.13 L583,75.83 L583.5,76.52 L584,77.21 L584.5,77.89 L585,78.56 L585.5,79.22 L586,79.87 L586.5,80.51 L587,81.13 L587.5,81.75 L588,82.35 L588.5,82.94 L589,83.52 L589.5,84.09 L590,84.64 L590.5,85.18 L591,85.71 L591.5,86.23 L592,86.73 L592.5,87.23 L593,87.71 L593.5,88.18 L594,88.64 L594.5,89.09 L595,89.52 L595.5,89.95 L596,90.37 L596.5,90.78 L597,91.17 L597.5,91.56 L598,91.94 L598.5,92.31 L599,92.67 L599.5,93.02 L600,93.37 L600.5,93.71 L601,94.03 L601.5,94.35 L602,94.67 L602.5,94.98 L603,95.28 L603.5,95.57 L604,95.85 L604.5,96.13 L605,96.41 L605.5,96.68 L606,96.94 L606.5,97.19 L607,97.45 L607.5,97.69 L608,97.93 L608.5,98.17 L609,98.4 L609.5,98.62 L610,98.84 L610.5,99.06 L611,99.27 L611.5,99.48 L612,99.68 L612.5,99.88 L613,100.08 L613.5,100.27 L614,100.46 L614.5,100.64 L615,100.82 L615.5,101 L616,101.18 L616.5,101.35 L617,101.52 L617.5,101.68 L618,101.84 L618.5,102 L619,102.16 L619.5,102.31 L620,102.46 L620.5,102.61 L621,102.75 L621.5,102.9 L622,103.04 L622.5,103.17 L623,103.31 L623.5,103.44 L624,103.57 L624.5,103.7 L625,103.83 L625.5,103.95 L626,104.08 L626.5,104.2 L627,104.32 L627.5,104.43 L628,104.55 L628.5,104.66 L629,104.77 L629.5,104.88 L630,104.99 L630.5,105.1 L631,105.2 L631.5,105.31 L632,105.41 L632.5,105.51 L633,105.61 L633.5,105.7 L634,105.8 L634.5,105.89 L635,105.99 L635.5,106.08 L636,106.17 L636.5,106.26 L637,106.35 L637.5,106.43 L638,106.52 L638.5,106.6 L639,106.69 L639.5,106.77 L640,106.85 L640.5,106.93 L641,107.01 L641.5,107.09 L642,107.16 L642.5,107.24 L643,107.31 L643.5,107.39 L644,107.46 L644.5,107.53 L645,107.6 L645.5,107.67 L646,107.74 L646.5,107.81 L647,107.88 L647.5,107.94 L648,108.01 L648.5,108.07 L649,108.14 L649.5,108.2 L650,108.27 L650.5,108.33 L651,108.39 L651.5,108.45 L652,108.51 L652.5,108.57 L653,108.63 L653.5,108.68 L654,108.74 L654.5,108.8 L655,108.85 L655.5,108.91 L656,108.96 L656.5,109.02 L657,109.07 L657.5,109.12 L658,109.18 L658.5,109.23 L659,109.28 L659.5,109.33 L660,109.38 L660.5,109.43 L661,109.48 L661.5,109.53 L662,109.57 L662.5,109.62 L663,109.67 L663.5,109.71 L664,109.76 L664.5,109.81 L665,109.85 L665.5,109.9 L666,109.94 L666.5,109.98 L667,110.03 L667.5,110.07 L668,110.11 L668.5,110.15 L669,110.2 L669.5,110.24 L670,110.28 L670.5,110.32 L671,110.36 L671.5,110.4 L672,110.44 L672.5,110.47 L673,110.51 L673.5,110.55 L674,110.59 L674.5,110.63 L675,110.66 L675.5,110.7 L676,110.74 L676.5,110.77 L677,110.81 L677.5,110.84 L678,110.88 L678.5,110.91 L679,110.95 L679.5,110.98 L680,111.02 L680.5,111.05 L681,111.08 L681.5,111.11 L682,111.15 L682.5,111.18 L683,111.21 L683.5,111.24 L684,111.28 L684.5,111.31 L685,111.34 L685.5,111.37 L686,111.4 L686.5,111.43 L687,111.46 L687.5,111.49 L688,111.52 L688.5,111.55 L689,111.58 L689.5,111.6 L690,111.63 L690.5,111.66 L691,111.69 L691.5,111.72 L692,111.74 L692.5,111.77 L693,111.8 L693.5,111.83 L694,111.85 L694.5,111.88 L695,111.91 L695.5,111.93 L696,111.96 L696.5,111.98 L697,112.01 L697.5,112.03 L698,112.06 L698.5,112.08 L699,112.11 L699.5,112.13 L700,112.16 L700.5,112.18 L701,112.21 L701.5,112.23 L702,112.25 L702.5,112.28 L703,112.3 L703.5,112.32 L704,112.35 L704.5,112.37 L705,112.39 L705.5,112.41 L706,112.44 L706.5,112.46 L707,112.48 L707.5,112.5 L708,112.52 L708.5,112.54 L709,112.57 L709.5,112.59 L710,112.61 L710.5,112.63 L711,112.65 L711.5,112.67 L712,112.69 L712.5,112.71 L713,112.73 L713.5,112.75 L714,112.77 L714.5,112.79 L715,112.81 L715.5,112.83 L716,112.85 L716.5,112.87 L717,112.89 L717.5,112.91 L718,112.92 L718.5,112.94 L719,112.96 L719.5,112.98 L720,113 L720.5,113.02 L721,113.03" fill="none" stroke="#0000ff" stroke-width="2.0" stroke-linejoin="round" stroke-linecap="round"/>
<line x1="520.9" y1="102.67" x2="520.9" y2="44" stroke="#0000ff" stroke-width="2.4"/>
<rect x="454" y="212.6" width="267.6" height="96.7" fill="none" stroke="#555" stroke-width="1.3"/>
<line x1="469.3" y1="309.3" x2="469.3" y2="306.8" stroke="#555" stroke-width="1.2"/>
<line x1="469.3" y1="212.6" x2="469.3" y2="215.1" stroke="#555" stroke-width="1.2"/>
<line x1="544.05" y1="309.3" x2="544.05" y2="306.8" stroke="#555" stroke-width="1.2"/>
<line x1="544.05" y1="212.6" x2="544.05" y2="215.1" stroke="#555" stroke-width="1.2"/>
<line x1="618.8" y1="309.3" x2="618.8" y2="306.8" stroke="#555" stroke-width="1.2"/>
<line x1="618.8" y1="212.6" x2="618.8" y2="215.1" stroke="#555" stroke-width="1.2"/>
<line x1="693.55" y1="309.3" x2="693.55" y2="306.8" stroke="#555" stroke-width="1.2"/>
<line x1="693.55" y1="212.6" x2="693.55" y2="215.1" stroke="#555" stroke-width="1.2"/>
<line x1="454" y1="212.6" x2="456.5" y2="212.6" stroke="#555" stroke-width="1.2"/>
<line x1="721.6" y1="212.6" x2="719.1" y2="212.6" stroke="#555" stroke-width="1.2"/>
<line x1="454" y1="309.3" x2="456.5" y2="309.3" stroke="#555" stroke-width="1.2"/>
<line x1="721.6" y1="309.3" x2="719.1" y2="309.3" stroke="#555" stroke-width="1.2"/>
<path d="M454.5,307.95 L455,307.94 L455.5,307.93 L456,307.93 L456.5,307.92 L457,307.92 L457.5,307.91 L458,307.91 L458.5,307.9 L459,307.89 L459.5,307.89 L460,307.88 L460.5,307.87 L461,307.87 L461.5,307.86 L462,307.85 L462.5,307.85 L463,307.84 L463.5,307.84 L464,307.83 L464.5,307.82 L465,307.81 L465.5,307.81 L466,307.8 L466.5,307.79 L467,307.79 L467.5,307.78 L468,307.77 L468.5,307.77 L469,307.76 L469.5,307.75 L470,307.74 L470.5,307.74 L471,307.73 L471.5,307.72 L472,307.71 L472.5,307.7 L473,307.7 L473.5,307.69 L474,307.68 L474.5,307.67 L475,307.66 L475.5,307.66 L476,307.65 L476.5,307.64 L477,307.63 L477.5,307.62 L478,307.61 L478.5,307.6 L479,307.59 L479.5,307.59 L480,307.58 L480.5,307.57 L481,307.56 L481.5,307.55 L482,307.54 L482.5,307.53 L483,307.52 L483.5,307.51 L484,307.5 L484.5,307.49 L485,307.48 L485.5,307.47 L486,307.46 L486.5,307.45 L487,307.44 L487.5,307.43 L488,307.41 L488.5,307.4 L489,307.39 L489.5,307.38 L490,307.37 L490.5,307.36 L491,307.35 L491.5,307.33 L492,307.32 L492.5,307.31 L493,307.3 L493.5,307.29 L494,307.27 L494.5,307.26 L495,307.25 L495.5,307.23 L496,307.22 L496.5,307.21 L497,307.19 L497.5,307.18 L498,307.17 L498.5,307.15 L499,307.14 L499.5,307.12 L500,307.11 L500.5,307.09 L501,307.08 L501.5,307.06 L502,307.05 L502.5,307.03 L503,307.02 L503.5,307 L504,306.98 L504.5,306.97 L505,306.95 L505.5,306.93 L506,306.92 L506.5,306.9 L507,306.88 L507.5,306.86 L508,306.84 L508.5,306.83 L509,306.81 L509.5,306.79 L510,306.77 L510.5,306.75 L511,306.73 L511.5,306.71 L512,306.69 L512.5,306.67 L513,306.65 L513.5,306.62 L514,306.6 L514.5,306.58 L515,306.56 L515.5,306.53 L516,306.51 L516.5,306.49 L517,306.46 L517.5,306.44 L518,306.41 L518.5,306.39 L519,306.36 L519.5,306.34 L520,306.31 L520.5,306.28 L521,306.25 L521.5,306.23 L522,306.2 L522.5,306.17 L523,306.14 L523.5,306.11 L524,306.08 L524.5,306.05 L525,306.01 L525.5,305.98 L526,305.95 L526.5,305.91 L527,305.88 L527.5,305.84 L528,305.81 L528.5,305.77 L529,305.73 L529.5,305.7 L530,305.66 L530.5,305.62 L531,305.58 L531.5,305.54 L532,305.49 L532.5,305.45 L533,305.41 L533.5,305.36 L534,305.32 L534.5,305.27 L535,305.22 L535.5,305.17 L536,305.12 L536.5,305.07 L537,305.02 L537.5,304.97 L538,304.91 L538.5,304.86 L539,304.8 L539.5,304.74 L540,304.68 L540.5,304.62 L541,304.56 L541.5,304.5 L542,304.43 L542.5,304.36 L543,304.29 L543.5,304.22 L544,304.15 L544.5,304.08 L545,304 L545.5,303.93 L546,303.85 L546.5,303.77 L547,303.68 L547.5,303.6 L548,303.51 L548.5,303.42 L549,303.33 L549.5,303.23 L550,303.14 L550.5,303.04 L551,302.94 L551.5,302.84 L552,302.73 L552.5,302.62 L553,302.51 L553.5,302.4 L554,302.29 L554.5,302.17 L555,302.05 L555.5,301.93 L556,301.8 L556.5,301.68 L557,301.55 L557.5,301.42 L558,301.29 L558.5,301.16 L559,301.02 L559.5,300.89 L560,300.75 L560.5,300.62 L561,300.48 L561.5,300.34 L562,300.21 L562.5,300.08 L563,299.95 L563.5,299.82 L564,299.69 L564.5,299.57 L565,299.46 L565.5,299.35 L566,299.24 L566.5,299.15 L567,299.06 L567.5,298.98 L568,298.91 L568.5,298.84 L569,298.79 L569.5,298.75 L570,298.72 L570.5,298.71 L571,298.7 L571.5,298.71 L572,298.72 L572.5,298.75 L573,298.79 L573.5,298.84 L574,298.91 L574.5,298.98 L575,299.06 L575.5,299.15 L576,299.24 L576.5,299.35 L577,299.46 L577.5,299.57 L578,299.69 L578.5,299.82 L579,299.95 L579.5,300.08 L580,300.21 L580.5,300.34 L581,300.48 L581.5,300.62 L582,300.75 L582.5,300.89 L583,301.02 L583.5,301.16 L584,301.29 L584.5,301.42 L585,301.55 L585.5,301.68 L586,301.8 L586.5,301.93 L587,302.05 L587.5,302.17 L588,302.29 L588.5,302.4 L589,302.51 L589.5,302.62 L590,302.73 L590.5,302.84 L591,302.94 L591.5,303.04 L592,303.14 L592.5,303.23 L593,303.33 L593.5,303.42 L594,303.51 L594.5,303.6 L595,303.68 L595.5,303.77 L596,303.85 L596.5,303.93 L597,304 L597.5,304.08 L598,304.15 L598.5,304.22 L599,304.29 L599.5,304.36 L600,304.43 L600.5,304.5 L601,304.56 L601.5,304.62 L602,304.68 L602.5,304.74 L603,304.8 L603.5,304.86 L604,304.91 L604.5,304.97 L605,305.02 L605.5,305.07 L606,305.12 L606.5,305.17 L607,305.22 L607.5,305.27 L608,305.32 L608.5,305.36 L609,305.41 L609.5,305.45 L610,305.49 L610.5,305.54 L611,305.58 L611.5,305.62 L612,305.66 L612.5,305.7 L613,305.73 L613.5,305.77 L614,305.81 L614.5,305.84 L615,305.88 L615.5,305.91 L616,305.95 L616.5,305.98 L617,306.01 L617.5,306.05 L618,306.08 L618.5,306.11 L619,306.14 L619.5,306.17 L620,306.2 L620.5,306.23 L621,306.25 L621.5,306.28 L622,306.31 L622.5,306.34 L623,306.36 L623.5,306.39 L624,306.41 L624.5,306.44 L625,306.46 L625.5,306.49 L626,306.51 L626.5,306.53 L627,306.56 L627.5,306.58 L628,306.6 L628.5,306.62 L629,306.65 L629.5,306.67 L630,306.69 L630.5,306.71 L631,306.73 L631.5,306.75 L632,306.77 L632.5,306.79 L633,306.81 L633.5,306.83 L634,306.84 L634.5,306.86 L635,306.88 L635.5,306.9 L636,306.92 L636.5,306.93 L637,306.95 L637.5,306.97 L638,306.98 L638.5,307 L639,307.02 L639.5,307.03 L640,307.05 L640.5,307.06 L641,307.08 L641.5,307.09 L642,307.11 L642.5,307.12 L643,307.14 L643.5,307.15 L644,307.17 L644.5,307.18 L645,307.19 L645.5,307.21 L646,307.22 L646.5,307.23 L647,307.25 L647.5,307.26 L648,307.27 L648.5,307.29 L649,307.3 L649.5,307.31 L650,307.32 L650.5,307.33 L651,307.35 L651.5,307.36 L652,307.37 L652.5,307.38 L653,307.39 L653.5,307.4 L654,307.41 L654.5,307.43 L655,307.44 L655.5,307.45 L656,307.46 L656.5,307.47 L657,307.48 L657.5,307.49 L658,307.5 L658.5,307.51 L659,307.52 L659.5,307.53 L660,307.54 L660.5,307.55 L661,307.56 L661.5,307.57 L662,307.58 L662.5,307.59 L663,307.59 L663.5,307.6 L664,307.61 L664.5,307.62 L665,307.63 L665.5,307.64 L666,307.65 L666.5,307.66 L667,307.66 L667.5,307.67 L668,307.68 L668.5,307.69 L669,307.7 L669.5,307.7 L670,307.71 L670.5,307.72 L671,307.73 L671.5,307.74 L672,307.74 L672.5,307.75 L673,307.76 L673.5,307.77 L674,307.77 L674.5,307.78 L675,307.79 L675.5,307.79 L676,307.8 L676.5,307.81 L677,307.81 L677.5,307.82 L678,307.83 L678.5,307.84 L679,307.84 L679.5,307.85 L680,307.85 L680.5,307.86 L681,307.87 L681.5,307.87 L682,307.88 L682.5,307.89 L683,307.89 L683.5,307.9 L684,307.91 L684.5,307.91 L685,307.92 L685.5,307.92 L686,307.93 L686.5,307.93 L687,307.94 L687.5,307.95 L688,307.95 L688.5,307.96 L689,307.96 L689.5,307.97 L690,307.97 L690.5,307.98 L691,307.99 L691.5,307.99 L692,308 L692.5,308 L693,308.01 L693.5,308.01 L694,308.02 L694.5,308.02 L695,308.03 L695.5,308.03 L696,308.04 L696.5,308.04 L697,308.05 L697.5,308.05 L698,308.06 L698.5,308.06 L699,308.07 L699.5,308.07 L700,308.08 L700.5,308.08 L701,308.08 L701.5,308.09 L702,308.09 L702.5,308.1 L703,308.1 L703.5,308.11 L704,308.11 L704.5,308.12 L705,308.12 L705.5,308.13 L706,308.13 L706.5,308.13 L707,308.14 L707.5,308.14 L708,308.15 L708.5,308.15 L709,308.15 L709.5,308.16 L710,308.16 L710.5,308.17 L711,308.17 L711.5,308.17 L712,308.18 L712.5,308.18 L713,308.19 L713.5,308.19 L714,308.19 L714.5,308.2 L715,308.2 L715.5,308.21 L716,308.21 L716.5,308.21 L717,308.22 L717.5,308.22 L718,308.22 L718.5,308.23 L719,308.23 L719.5,308.23 L720,308.24 L720.5,308.24 L721,308.25" fill="none" stroke="#ff0000" stroke-width="2.0" stroke-linejoin="round" stroke-linecap="round"/>
<line x1="573.6" y1="298.86" x2="573.6" y2="212.6" stroke="#ff0000" stroke-width="2.4"/>
<rect x="454" y="399.5" width="267.6" height="96.8" fill="none" stroke="#555" stroke-width="1.3"/>
<line x1="469.3" y1="496.3" x2="469.3" y2="493.8" stroke="#555" stroke-width="1.2"/>
<line x1="469.3" y1="399.5" x2="469.3" y2="402" stroke="#555" stroke-width="1.2"/>
<line x1="544.05" y1="496.3" x2="544.05" y2="493.8" stroke="#555" stroke-width="1.2"/>
<line x1="544.05" y1="399.5" x2="544.05" y2="402" stroke="#555" stroke-width="1.2"/>
<line x1="618.8" y1="496.3" x2="618.8" y2="493.8" stroke="#555" stroke-width="1.2"/>
<line x1="618.8" y1="399.5" x2="618.8" y2="402" stroke="#555" stroke-width="1.2"/>
<line x1="693.55" y1="496.3" x2="693.55" y2="493.8" stroke="#555" stroke-width="1.2"/>
<line x1="693.55" y1="399.5" x2="693.55" y2="402" stroke="#555" stroke-width="1.2"/>
<line x1="454" y1="399.5" x2="456.5" y2="399.5" stroke="#555" stroke-width="1.2"/>
<line x1="721.6" y1="399.5" x2="719.1" y2="399.5" stroke="#555" stroke-width="1.2"/>
<line x1="454" y1="447.9" x2="456.5" y2="447.9" stroke="#555" stroke-width="1.2"/>
<line x1="721.6" y1="447.9" x2="719.1" y2="447.9" stroke="#555" stroke-width="1.2"/>
<line x1="454" y1="496.3" x2="456.5" y2="496.3" stroke="#555" stroke-width="1.2"/>
<line x1="721.6" y1="496.3" x2="719.1" y2="496.3" stroke="#555" stroke-width="1.2"/>
<path d="M454.5,489.3 L455,489.27 L455.5,489.24 L456,489.21 L456.5,489.17 L457,489.14 L457.5,489.11 L458,489.08 L458.5,489.05 L459,489.02 L459.5,488.99 L460,488.95 L460.5,488.92 L461,488.89 L461.5,488.86 L462,488.82 L462.5,488.79 L463,488.75 L463.5,488.72 L464,488.69 L464.5,488.65 L465,488.61 L465.5,488.58 L466,488.54 L466.5,488.51 L467,488.47 L467.5,488.43 L468,488.4 L468.5,488.36 L469,488.32 L469.5,488.28 L470,488.24 L470.5,488.2 L471,488.16 L471.5,488.12 L472,488.08 L472.5,488.04 L473,488 L473.5,487.96 L474,487.92 L474.5,487.88 L475,487.83 L475.5,487.79 L476,487.75 L476.5,487.7 L477,487.66 L477.5,487.61 L478,487.57 L478.5,487.52 L479,487.47 L479.5,487.43 L480,487.38 L480.5,487.33 L481,487.28 L481.5,487.24 L482,487.19 L482.5,487.14 L483,487.09 L483.5,487.03 L484,486.98 L484.5,486.93 L485,486.88 L485.5,486.82 L486,486.77 L486.5,486.72 L487,486.66 L487.5,486.6 L488,486.55 L488.5,486.49 L489,486.43 L489.5,486.37 L490,486.32 L490.5,486.26 L491,486.19 L491.5,486.13 L492,486.07 L492.5,486.01 L493,485.95 L493.5,485.88 L494,485.82 L494.5,485.75 L495,485.68 L495.5,485.62 L496,485.55 L496.5,485.48 L497,485.41 L497.5,485.34 L498,485.26 L498.5,485.19 L499,485.12 L499.5,485.04 L500,484.97 L500.5,484.89 L501,484.81 L501.5,484.73 L502,484.65 L502.5,484.57 L503,484.49 L503.5,484.41 L504,484.32 L504.5,484.24 L505,484.15 L505.5,484.06 L506,483.97 L506.5,483.88 L507,483.79 L507.5,483.7 L508,483.6 L508.5,483.51 L509,483.41 L509.5,483.31 L510,483.21 L510.5,483.11 L511,483.01 L511.5,482.9 L512,482.79 L512.5,482.69 L513,482.58 L513.5,482.46 L514,482.35 L514.5,482.24 L515,482.12 L515.5,482 L516,481.88 L516.5,481.76 L517,481.63 L517.5,481.5 L518,481.38 L518.5,481.24 L519,481.11 L519.5,480.98 L520,480.84 L520.5,480.7 L521,480.55 L521.5,480.41 L522,480.26 L522.5,480.11 L523,479.96 L523.5,479.8 L524,479.64 L524.5,479.48 L525,479.31 L525.5,479.15 L526,478.97 L526.5,478.8 L527,478.62 L527.5,478.44 L528,478.25 L528.5,478.07 L529,477.87 L529.5,477.68 L530,477.48 L530.5,477.27 L531,477.07 L531.5,476.85 L532,476.64 L532.5,476.41 L533,476.19 L533.5,475.96 L534,475.72 L534.5,475.48 L535,475.23 L535.5,474.98 L536,474.73 L536.5,474.46 L537,474.19 L537.5,473.92 L538,473.64 L538.5,473.35 L539,473.06 L539.5,472.76 L540,472.45 L540.5,472.14 L541,471.81 L541.5,471.48 L542,471.15 L542.5,470.8 L543,470.45 L543.5,470.08 L544,469.71 L544.5,469.33 L545,468.94 L545.5,468.55 L546,468.14 L546.5,467.72 L547,467.29 L547.5,466.85 L548,466.4 L548.5,465.94 L549,465.47 L549.5,464.99 L550,464.49 L550.5,463.98 L551,463.47 L551.5,462.93 L552,462.39 L552.5,461.84 L553,461.27 L553.5,460.69 L554,460.1 L554.5,459.49 L555,458.88 L555.5,458.25 L556,457.61 L556.5,456.96 L557,456.3 L557.5,455.63 L558,454.95 L558.5,454.26 L559,453.57 L559.5,452.87 L560,452.17 L560.5,451.47 L561,450.76 L561.5,450.06 L562,449.36 L562.5,448.67 L563,447.99 L563.5,447.33 L564,446.68 L564.5,446.05 L565,445.44 L565.5,444.87 L566,444.32 L566.5,443.81 L567,443.34 L567.5,442.92 L568,442.54 L568.5,442.21 L569,441.93 L569.5,441.71 L570,441.55 L570.5,441.44 L571,441.4 L571.5,441.42 L572,441.5 L572.5,441.64 L573,441.84 L573.5,442.09 L574,442.4 L574.5,442.76 L575,443.17 L575.5,443.62 L576,444.11 L576.5,444.65 L577,445.21 L577.5,445.8 L578,446.42 L578.5,447.07 L579,447.73 L579.5,448.4 L580,449.09 L580.5,449.78 L581,450.48 L581.5,451.18 L582,451.89 L582.5,452.59 L583,453.29 L583.5,453.99 L584,454.68 L584.5,455.36 L585,456.03 L585.5,456.7 L586,457.35 L586.5,457.99 L587,458.63 L587.5,459.25 L588,459.86 L588.5,460.45 L589,461.04 L589.5,461.61 L590,462.17 L590.5,462.72 L591,463.25 L591.5,463.78 L592,464.29 L592.5,464.79 L593,465.28 L593.5,465.75 L594,466.22 L594.5,466.67 L595,467.12 L595.5,467.55 L596,467.97 L596.5,468.38 L597,468.79 L597.5,469.18 L598,469.56 L598.5,469.94 L599,470.3 L599.5,470.66 L600,471.01 L600.5,471.35 L601,471.68 L601.5,472.01 L602,472.33 L602.5,472.64 L603,472.94 L603.5,473.24 L604,473.53 L604.5,473.81 L605,474.09 L605.5,474.36 L606,474.62 L606.5,474.88 L607,475.13 L607.5,475.38 L608,475.63 L608.5,475.86 L609,476.1 L609.5,476.32 L610,476.55 L610.5,476.77 L611,476.98 L611.5,477.19 L612,477.4 L612.5,477.6 L613,477.8 L613.5,477.99 L614,478.18 L614.5,478.37 L615,478.55 L615.5,478.73 L616,478.9 L616.5,479.08 L617,479.25 L617.5,479.41 L618,479.58 L618.5,479.74 L619,479.89 L619.5,480.05 L620,480.2 L620.5,480.35 L621,480.5 L621.5,480.64 L622,480.78 L622.5,480.92 L623,481.06 L623.5,481.19 L624,481.32 L624.5,481.45 L625,481.58 L625.5,481.71 L626,481.83 L626.5,481.95 L627,482.07 L627.5,482.19 L628,482.31 L628.5,482.42 L629,482.53 L629.5,482.64 L630,482.75 L630.5,482.86 L631,482.96 L631.5,483.07 L632,483.17 L632.5,483.27 L633,483.37 L633.5,483.47 L634,483.56 L634.5,483.66 L635,483.75 L635.5,483.85 L636,483.94 L636.5,484.03 L637,484.12 L637.5,484.2 L638,484.29 L638.5,484.37 L639,484.46 L639.5,484.54 L640,484.62 L640.5,484.7 L641,484.78 L641.5,484.86 L642,484.94 L642.5,485.01 L643,485.09 L643.5,485.16 L644,485.24 L644.5,485.31 L645,485.38 L645.5,485.45 L646,485.52 L646.5,485.59 L647,485.66 L647.5,485.72 L648,485.79 L648.5,485.85 L649,485.92 L649.5,485.98 L650,486.05 L650.5,486.11 L651,486.17 L651.5,486.23 L652,486.29 L652.5,486.35 L653,486.41 L653.5,486.47 L654,486.53 L654.5,486.58 L655,486.64 L655.5,486.69 L656,486.75 L656.5,486.8 L657,486.86 L657.5,486.91 L658,486.96 L658.5,487.01 L659,487.06 L659.5,487.12 L660,487.17 L660.5,487.22 L661,487.26 L661.5,487.31 L662,487.36 L662.5,487.41 L663,487.46 L663.5,487.5 L664,487.55 L664.5,487.59 L665,487.64 L665.5,487.68 L666,487.73 L666.5,487.77 L667,487.82 L667.5,487.86 L668,487.9 L668.5,487.94 L669,487.99 L669.5,488.03 L670,488.07 L670.5,488.11 L671,488.15 L671.5,488.19 L672,488.23 L672.5,488.27 L673,488.3 L673.5,488.34 L674,488.38 L674.5,488.42 L675,488.46 L675.5,488.49 L676,488.53 L676.5,488.56 L677,488.6 L677.5,488.64 L678,488.67 L678.5,488.71 L679,488.74 L679.5,488.77 L680,488.81 L680.5,488.84 L681,488.88 L681.5,488.91 L682,488.94 L682.5,488.97 L683,489.01 L683.5,489.04 L684,489.07 L684.5,489.1 L685,489.13 L685.5,489.16 L686,489.19 L686.5,489.22 L687,489.25 L687.5,489.28 L688,489.31 L688.5,489.34 L689,489.37 L689.5,489.4 L690,489.43 L690.5,489.46 L691,489.48 L691.5,489.51 L692,489.54 L692.5,489.57 L693,489.6 L693.5,489.62 L694,489.65 L694.5,489.68 L695,489.7 L695.5,489.73 L696,489.75 L696.5,489.78 L697,489.81 L697.5,489.83 L698,489.86 L698.5,489.88 L699,489.91 L699.5,489.93 L700,489.95 L700.5,489.98 L701,490 L701.5,490.03 L702,490.05 L702.5,490.07 L703,490.1 L703.5,490.12 L704,490.14 L704.5,490.17 L705,490.19 L705.5,490.21 L706,490.23 L706.5,490.26 L707,490.28 L707.5,490.3 L708,490.32 L708.5,490.34 L709,490.36 L709.5,490.38 L710,490.41 L710.5,490.43 L711,490.45 L711.5,490.47 L712,490.49 L712.5,490.51 L713,490.53 L713.5,490.55 L714,490.57 L714.5,490.59 L715,490.61 L715.5,490.63 L716,490.65 L716.5,490.67 L717,490.69 L717.5,490.7 L718,490.72 L718.5,490.74 L719,490.76 L719.5,490.78 L720,490.8 L720.5,490.82 L721,490.83" fill="none" stroke="#00ff00" stroke-width="2.0" stroke-linejoin="round" stroke-linecap="round"/>
<line x1="621.5" y1="480.64" x2="621.5" y2="431.9" stroke="#00ff00" stroke-width="2.4"/>
<text x="60.8" y="29.2" font-family="Liberation Sans" font-size="19" font-style="normal" text-anchor="end" fill="#262626" >0.2</text>
<text x="60.8" y="77.5" font-family="Liberation Sans" font-size="19" font-style="normal" text-anchor="end" fill="#262626" >0</text>
<text x="60.8" y="125.7" font-family="Liberation Sans" font-size="19" font-style="normal" text-anchor="end" fill="#262626" >-0.2</text>
<text x="68.5" y="145.1" font-family="Liberation Sans" font-size="19" font-style="normal" text-anchor="middle" fill="#262626" >0</text>
<text x="122.06" y="145.1" font-family="Liberation Sans" font-size="19" font-style="normal" text-anchor="middle" fill="#262626" >1</text>
<text x="175.62" y="145.1" font-family="Liberation Sans" font-size="19" font-style="normal" text-anchor="middle" fill="#262626" >2</text>
<text x="229.18" y="145.1" font-family="Liberation Sans" font-size="19" font-style="normal" text-anchor="middle" fill="#262626" >3</text>
<text x="282.74" y="145.1" font-family="Liberation Sans" font-size="19" font-style="normal" text-anchor="middle" fill="#262626" >4</text>
<text x="336.3" y="145.1" font-family="Liberation Sans" font-size="19" font-style="normal" text-anchor="middle" fill="#262626" >5</text>
<text x="60.8" y="220.3" font-family="Liberation Sans" font-size="19" font-style="normal" text-anchor="end" fill="#262626" >2</text>
<text x="60.8" y="268.45" font-family="Liberation Sans" font-size="19" font-style="normal" text-anchor="end" fill="#262626" >0</text>
<text x="60.8" y="316.5" font-family="Liberation Sans" font-size="19" font-style="normal" text-anchor="end" fill="#262626" >-2</text>
<text x="68.5" y="335.9" font-family="Liberation Sans" font-size="19" font-style="normal" text-anchor="middle" fill="#262626" >0</text>
<text x="122.06" y="335.9" font-family="Liberation Sans" font-size="19" font-style="normal" text-anchor="middle" fill="#262626" >1</text>
<text x="175.62" y="335.9" font-family="Liberation Sans" font-size="19" font-style="normal" text-anchor="middle" fill="#262626" >2</text>
<text x="229.18" y="335.9" font-family="Liberation Sans" font-size="19" font-style="normal" text-anchor="middle" fill="#262626" >3</text>
<text x="282.74" y="335.9" font-family="Liberation Sans" font-size="19" font-style="normal" text-anchor="middle" fill="#262626" >4</text>
<text x="336.3" y="335.9" font-family="Liberation Sans" font-size="19" font-style="normal" text-anchor="middle" fill="#262626" >5</text>
<text x="60.8" y="407.2" font-family="Liberation Sans" font-size="19" font-style="normal" text-anchor="end" fill="#262626" >0.2</text>
<text x="60.8" y="455.4" font-family="Liberation Sans" font-size="19" font-style="normal" text-anchor="end" fill="#262626" >0</text>
<text x="60.8" y="503.5" font-family="Liberation Sans" font-size="19" font-style="normal" text-anchor="end" fill="#262626" >-0.2</text>
<text x="68.5" y="522.9" font-family="Liberation Sans" font-size="19" font-style="normal" text-anchor="middle" fill="#262626" >0</text>
<text x="122.06" y="522.9" font-family="Liberation Sans" font-size="19" font-style="normal" text-anchor="middle" fill="#262626" >1</text>
<text x="175.62" y="522.9" font-family="Liberation Sans" font-size="19" font-style="normal" text-anchor="middle" fill="#262626" >2</text>
<text x="229.18" y="522.9" font-family="Liberation Sans" font-size="19" font-style="normal" text-anchor="middle" fill="#262626" >3</text>
<text x="282.74" y="522.9" font-family="Liberation Sans" font-size="19" font-style="normal" text-anchor="middle" fill="#262626" >4</text>
<text x="336.3" y="522.9" font-family="Liberation Sans" font-size="19" font-style="normal" text-anchor="middle" fill="#262626" >5</text>
<text x="445.8" y="29.2" font-family="Liberation Sans" font-size="19" font-style="normal" text-anchor="end" fill="#262626" >0.1</text>
<text x="445.8" y="77.5" font-family="Liberation Sans" font-size="19" font-style="normal" text-anchor="end" fill="#262626" >0.05</text>
<text x="445.8" y="125.7" font-family="Liberation Sans" font-size="19" font-style="normal" text-anchor="end" fill="#262626" >0</text>
<text x="469.3" y="145.1" font-family="Liberation Sans" font-size="19" font-style="normal" text-anchor="middle" fill="#262626" >1</text>
<text x="544.05" y="145.1" font-family="Liberation Sans" font-size="19" font-style="normal" text-anchor="middle" fill="#262626" >1.5</text>
<text x="618.8" y="145.1" font-family="Liberation Sans" font-size="19" font-style="normal" text-anchor="middle" fill="#262626" >2</text>
<text x="693.55" y="145.1" font-family="Liberation Sans" font-size="19" font-style="normal" text-anchor="middle" fill="#262626" >2.5</text>
<text x="445.8" y="220.3" font-family="Liberation Sans" font-size="19" font-style="normal" text-anchor="end" fill="#262626" >1</text>
<text x="445.8" y="316.5" font-family="Liberation Sans" font-size="19" font-style="normal" text-anchor="end" fill="#262626" >0</text>
<text x="469.3" y="335.9" font-family="Liberation Sans" font-size="19" font-style="normal" text-anchor="middle" fill="#262626" >1</text>
<text x="544.05" y="335.9" font-family="Liberation Sans" font-size="19" font-style="normal" text-anchor="middle" fill="#262626" >1.5</text>
<text x="618.8" y="335.9" font-family="Liberation Sans" font-size="19" font-style="normal" text-anchor="middle" fill="#262626" >2</text>
<text x="693.55" y="335.9" font-family="Liberation Sans" font-size="19" font-style="normal" text-anchor="middle" fill="#262626" >2.5</text>
<text x="445.8" y="407.2" font-family="Liberation Sans" font-size="19" font-style="normal" text-anchor="end" fill="#262626" >0.1</text>
<text x="445.8" y="455.4" font-family="Liberation Sans" font-size="19" font-style="normal" text-anchor="end" fill="#262626" >0.05</text>
<text x="445.8" y="503.5" font-family="Liberation Sans" font-size="19" font-style="normal" text-anchor="end" fill="#262626" >0</text>
<text x="469.3" y="522.9" font-family="Liberation Sans" font-size="19" font-style="normal" text-anchor="middle" fill="#262626" >1</text>
<text x="544.05" y="522.9" font-family="Liberation Sans" font-size="19" font-style="normal" text-anchor="middle" fill="#262626" >1.5</text>
<text x="618.8" y="522.9" font-family="Liberation Sans" font-size="19" font-style="normal" text-anchor="middle" fill="#262626" >2</text>
<text x="693.55" y="522.9" font-family="Liberation Sans" font-size="19" font-style="normal" text-anchor="middle" fill="#262626" >2.5</text>
<line x1="290.3" y1="168.1" x2="299.9" y2="176.4" stroke="#262626" stroke-width="1.0"/>
<line x1="290.3" y1="176.4" x2="299.9" y2="168.1" stroke="#262626" stroke-width="1.0"/>
<text x="302.7" y="177.5" font-family="Liberation Sans" font-size="19" font-style="normal" text-anchor="start" fill="#262626" >10</text>
<text x="337.4" y="168.4" font-family="Liberation Sans" font-size="14.5" font-style="normal" text-anchor="end" fill="#262626" >-6</text>
<line x1="288.6" y1="359" x2="297.8" y2="367.7" stroke="#262626" stroke-width="1.0"/>
<line x1="288.6" y1="367.7" x2="297.8" y2="359" stroke="#262626" stroke-width="1.0"/>
<text x="301" y="368.1" font-family="Liberation Sans" font-size="19" font-style="normal" text-anchor="start" fill="#262626" >10</text>
<text x="335.7" y="358.4" font-family="Liberation Sans" font-size="14.5" font-style="normal" text-anchor="end" fill="#262626" >-6</text>
<line x1="288.4" y1="546.8" x2="296.9" y2="555.4" stroke="#262626" stroke-width="1.0"/>
<line x1="288.4" y1="555.4" x2="296.9" y2="546.8" stroke="#262626" stroke-width="1.0"/>
<text x="300.5" y="555.8" font-family="Liberation Sans" font-size="19" font-style="normal" text-anchor="start" fill="#262626" >10</text>
<text x="334.8" y="546.7" font-family="Liberation Sans" font-size="14.5" font-style="normal" text-anchor="end" fill="#262626" >-6</text>
<line x1="679.7" y1="167" x2="688.6" y2="175.5" stroke="#262626" stroke-width="1.0"/>
<line x1="679.7" y1="175.5" x2="688.6" y2="167" stroke="#262626" stroke-width="1.0"/>
<text x="691.8" y="176.3" font-family="Liberation Sans" font-size="19" font-style="normal" text-anchor="start" fill="#262626" >10</text>
<text x="721.4" y="166" font-family="Liberation Sans" font-size="14.5" font-style="normal" text-anchor="end" fill="#262626" >6</text>
<line x1="679.7" y1="358.6" x2="688.4" y2="367.3" stroke="#262626" stroke-width="1.0"/>
<line x1="679.7" y1="367.3" x2="688.4" y2="358.6" stroke="#262626" stroke-width="1.0"/>
<text x="691.8" y="368.1" font-family="Liberation Sans" font-size="19" font-style="normal" text-anchor="start" fill="#262626" >10</text>
<text x="721.4" y="358" font-family="Liberation Sans" font-size="14.5" font-style="normal" text-anchor="end" fill="#262626" >6</text>
<line x1="679.7" y1="545.1" x2="688.6" y2="553.4" stroke="#262626" stroke-width="1.0"/>
<line x1="679.7" y1="553.4" x2="688.6" y2="545.1" stroke="#262626" stroke-width="1.0"/>
<text x="691.8" y="554" font-family="Liberation Sans" font-size="19" font-style="normal" text-anchor="start" fill="#262626" >10</text>
<text x="721.4" y="544.5" font-family="Liberation Sans" font-size="14.5" font-style="normal" text-anchor="end" fill="#262626" >6</text>
<text x="182.8" y="172" font-family="Liberation Serif" font-size="25" fill="#000"><tspan font-style="italic">t</tspan>(<tspan font-style="italic">s</tspan>)</text>
<text x="178.8" y="365.7" font-family="Liberation Serif" font-size="25" fill="#000"><tspan font-style="italic">t</tspan>(<tspan font-style="italic">s</tspan>)</text>
<text x="179" y="552.5" font-family="Liberation Serif" font-size="25" fill="#000"><tspan font-style="italic">t</tspan>(<tspan font-style="italic">s</tspan>)</text>
<path d="M550.3,175.1 C551.2,176.1 553,175.5 553.9,172.8 L560,156.5 C561,153.6 562.8,152.9 564.3,154.5" fill="none" stroke="#000" stroke-width="1.75" stroke-linecap="round"/>
<path d="M555.2,165.5 L559.4,157.5" stroke="#000" stroke-width="0.9" stroke-linecap="round"/>
<circle cx="550.8" cy="175.1" r="1.15" fill="#000"/><circle cx="563.9" cy="154.9" r="1.05" fill="#000"/>
<line x1="554.6" y1="160.2" x2="561" y2="160.2" stroke="#000" stroke-width="1.1"/>
<text x="564.3" y="170.5" font-family="Liberation Serif" font-size="25" fill="#000">(<tspan font-style="italic">Hz</tspan>)</text>
<path d="M544.7,369.1 C545.6,370.1 547.4,369.5 548.3,366.8 L554.4,350.5 C555.4,347.6 557.2,346.9 558.7,348.5" fill="none" stroke="#000" stroke-width="1.75" stroke-linecap="round"/>
<path d="M549.6,359.5 L553.8,351.5" stroke="#000" stroke-width="0.9" stroke-linecap="round"/>
<circle cx="545.2" cy="369.1" r="1.15" fill="#000"/><circle cx="558.3" cy="348.9" r="1.05" fill="#000"/>
<line x1="549" y1="354.2" x2="555.4" y2="354.2" stroke="#000" stroke-width="1.1"/>
<text x="558.8" y="364.5" font-family="Liberation Serif" font-size="25" fill="#000">(<tspan font-style="italic">Hz</tspan>)</text>
<path d="M548.5,555.7 C549.4,556.7 551.2,556.1 552.1,553.4 L558.2,537.1 C559.2,534.2 561,533.5 562.5,535.1" fill="none" stroke="#000" stroke-width="1.75" stroke-linecap="round"/>
<path d="M553.4,546.1 L557.6,538.1" stroke="#000" stroke-width="0.9" stroke-linecap="round"/>
<circle cx="549" cy="555.7" r="1.15" fill="#000"/><circle cx="562.1" cy="535.5" r="1.05" fill="#000"/>
<line x1="552.8" y1="540.8" x2="559.2" y2="540.8" stroke="#000" stroke-width="1.1"/>
<text x="562" y="551.1" font-family="Liberation Serif" font-size="25" fill="#000">(<tspan font-style="italic">Hz</tspan>)</text>
<text transform="translate(20.1,107.3) rotate(-90)" font-family="Liberation Serif" font-size="25" font-style="italic" fill="#000"><tspan letter-spacing="0.6">u/u</tspan><tspan dx="-1.8" dy="10">max</tspan></text>
<text transform="translate(22.8,299.8) rotate(-90)" font-family="Liberation Serif" font-size="25" font-style="italic" fill="#000"><tspan letter-spacing="0.6">u/u</tspan><tspan dx="-1.8" dy="10">max</tspan></text>
<text transform="translate(19.5,485.6) rotate(-90)" font-family="Liberation Serif" font-size="25" font-style="italic" fill="#000"><tspan letter-spacing="0.6">u/u</tspan><tspan dx="-1.6" dy="10">max</tspan></text>
<text transform="translate(393.5,110) rotate(-90)" font-family="Liberation Serif" font-size="25" font-style="italic" fill="#000"><tspan letter-spacing="0.8">U/U</tspan><tspan dx="-1.2" dy="10">max</tspan></text>
<text transform="translate(405.3,304.5) rotate(-90)" font-family="Liberation Serif" font-size="25" font-style="italic" fill="#000"><tspan letter-spacing="0.8">U/U</tspan><tspan dx="-1.2" dy="11">max</tspan></text>
<text transform="translate(396.3,484.8) rotate(-90)" font-family="Liberation Serif" font-size="25" font-style="italic" fill="#000"><tspan letter-spacing="0.8">U/U</tspan><tspan dx="-1.0" dy="11">max</tspan></text>
<text x="339.8" y="16.6" font-family="Liberation Sans" font-size="20" font-style="normal" text-anchor="start" fill="#000" letter-spacing="1.65">(a)</text>
<text x="725.3" y="19.8" font-family="Liberation Sans" font-size="20" font-style="normal" text-anchor="start" fill="#000" letter-spacing="0.75">(b)</text>
<text x="339.5" y="212" font-family="Liberation Sans" font-size="20" font-style="normal" text-anchor="start" fill="#000" letter-spacing="-0.2">(c)</text>
<text x="725.8" y="210.8" font-family="Liberation Sans" font-size="20" font-style="normal" text-anchor="start" fill="#000" letter-spacing="0.7">(d)</text>
<text x="339.4" y="399.8" font-family="Liberation Sans" font-size="20" font-style="normal" text-anchor="start" fill="#000" letter-spacing="0.15">(e)</text>
<text x="726.2" y="400" font-family="Liberation Sans" font-size="20" font-style="normal" text-anchor="start" fill="#000" letter-spacing="1.0">(f)</text>
<line x1="522.4" y1="41.2" x2="554.1" y2="41.2" stroke="#111" stroke-width="1.4"/>
<text x="556.1" y="43.6" font-family="Liberation Serif" font-size="16.5" font-style="normal" text-anchor="start" fill="#000" >1.356MHz,0.07608</text>
<line x1="512.2" y1="46.2" x2="515.7" y2="47.6" stroke="#111" stroke-width="1.4"/>
<line x1="571" y1="61.2" x2="605" y2="61.2" stroke="#111" stroke-width="1.4"/>
<text x="611.6" y="66.9" font-family="Liberation Serif" font-size="16.5" font-style="normal" text-anchor="start" fill="#000" >1.695MHz,</text>
<text x="611.6" y="85.5" font-family="Liberation Serif" font-size="16.5" font-style="normal" text-anchor="start" fill="#000" >0.05662</text>
<line x1="569.8" y1="214.5" x2="540" y2="227.2" stroke="#111" stroke-width="1.4"/>
<text x="466.2" y="238.5" font-family="Liberation Serif" font-size="16.5" font-style="normal" text-anchor="start" fill="#000" >1.695MHz,1</text>
<line x1="575.8" y1="295.2" x2="606" y2="281.5" stroke="#111" stroke-width="1.4"/>
<text x="612" y="260" font-family="Liberation Serif" font-size="16.5" font-style="normal" text-anchor="start" fill="#000" >1.695MHz,</text>
<text x="611.2" y="278.3" font-family="Liberation Serif" font-size="16.5" font-style="normal" text-anchor="start" fill="#000" >0.05663</text>
<text x="472.5" y="420.6" font-family="Liberation Serif" font-size="16.5" font-style="normal" text-anchor="start" fill="#000" >1.695MHz,</text>
<text x="472.4" y="438.3" font-family="Liberation Serif" font-size="16.5" font-style="normal" text-anchor="start" fill="#000" >0.05662</text>
<line x1="553.2" y1="423.8" x2="570.6" y2="438.9" stroke="#111" stroke-width="1.4"/>
<line x1="622.5" y1="429.4" x2="643.4" y2="434.5" stroke="#111" stroke-width="1.4"/>
<text x="632.1" y="452.5" font-family="Liberation Serif" font-size="16.5" font-style="normal" text-anchor="start" fill="#000" >2.034MHz,</text>
<text x="632.1" y="470.2" font-family="Liberation Serif" font-size="16.5" font-style="normal" text-anchor="start" fill="#000" >0.06533</text>
</svg>
</body></html>
